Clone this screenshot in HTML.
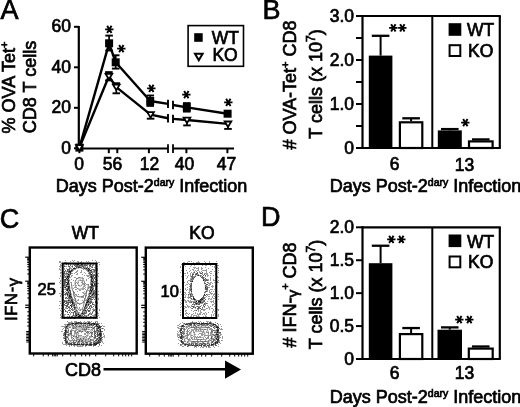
<!DOCTYPE html>
<html><head><meta charset="utf-8"><style>
html,body{margin:0;padding:0;background:#fff;}
svg{display:block;filter:blur(0.3px);}
text{font-family:"Liberation Sans", Arial, Helvetica, sans-serif;fill:#000;}
</style></head><body>
<svg width="520" height="407" viewBox="0 0 520 407" stroke="#000" stroke-linecap="butt">
<g stroke="none">
</g>
<text stroke="#000" stroke-width="0.7" x="0.4" y="19.2" font-size="27" text-anchor="start" >A</text>
<line x1="78.80" y1="26.00" x2="78.80" y2="149.50" stroke-width="2.2"/>
<line x1="74.00" y1="26.80" x2="79.00" y2="26.80" stroke-width="2"/>
<text stroke="#000" stroke-width="0.7" x="71" y="32.40000000000001" font-size="17.5" text-anchor="end" >60</text>
<line x1="74.00" y1="67.30" x2="79.00" y2="67.30" stroke-width="2"/>
<text stroke="#000" stroke-width="0.7" x="71" y="72.9" font-size="17.5" text-anchor="end" >40</text>
<line x1="74.00" y1="107.80" x2="79.00" y2="107.80" stroke-width="2"/>
<text stroke="#000" stroke-width="0.7" x="71" y="113.4" font-size="17.5" text-anchor="end" >20</text>
<line x1="74.00" y1="148.30" x2="79.00" y2="148.30" stroke-width="2"/>
<text stroke="#000" stroke-width="0.7" x="71" y="153.9" font-size="17.5" text-anchor="end" >0</text>
<line x1="77.80" y1="148.50" x2="168.00" y2="148.50" stroke-width="2"/>
<line x1="173.00" y1="148.50" x2="234.00" y2="148.50" stroke-width="2"/>
<line x1="79.40" y1="148.50" x2="79.40" y2="153.20" stroke-width="2"/>
<line x1="108.80" y1="148.50" x2="108.80" y2="153.20" stroke-width="2"/>
<line x1="117.30" y1="148.50" x2="117.30" y2="153.20" stroke-width="2"/>
<line x1="148.90" y1="148.50" x2="148.90" y2="153.20" stroke-width="2"/>
<line x1="186.40" y1="148.50" x2="186.40" y2="153.20" stroke-width="2"/>
<line x1="227.40" y1="148.50" x2="227.40" y2="153.20" stroke-width="2"/>
<line x1="168.00" y1="144.30" x2="168.00" y2="153.00" stroke-width="1.8"/>
<line x1="173.00" y1="144.30" x2="173.00" y2="153.00" stroke-width="1.8"/>
<text stroke="#000" stroke-width="0.7" x="79.2" y="169.8" font-size="17.5" text-anchor="middle" >0</text>
<text stroke="#000" stroke-width="0.7" x="112.4" y="169.8" font-size="17.5" text-anchor="middle" >56</text>
<text stroke="#000" stroke-width="0.7" x="149.4" y="169.8" font-size="17.5" text-anchor="middle" >12</text>
<text stroke="#000" stroke-width="0.7" x="184.6" y="169.8" font-size="17.5" text-anchor="middle" >40</text>
<text stroke="#000" stroke-width="0.7" x="226.5" y="169.8" font-size="17.5" text-anchor="middle" >47</text>
<text stroke="#000" stroke-width="0.7" x="55.8" y="191.5" font-size="18" text-anchor="start" >Days Post-2<tspan font-size="10.5" dy="-6">dary</tspan><tspan dy="6"> Infection</tspan></text>
<text stroke="#000" stroke-width="0.7" transform="translate(14.6,87.5) rotate(-90)" font-size="18" text-anchor="middle">% OVA Tet<tspan font-size="11" dy="-7">+</tspan></text>
<text stroke="#000" stroke-width="0.7" transform="translate(36,87) rotate(-90)" font-size="18" text-anchor="middle">CD8 T cells</text>
<rect x="188.1" y="25.6" width="55.4" height="40.7" fill="none" stroke-width="1.6"/>
<rect x="194.2" y="33.2" width="8.5" height="8.6" fill="#000" stroke="none"/>
<text stroke="#000" stroke-width="0.7" x="211.8" y="43.8" font-size="17.5" text-anchor="start" >WT</text>
<path d="M195,53.8 L202.6,53.8 L198.8,60.2 Z" fill="#fff" stroke-width="2"/>
<text stroke="#000" stroke-width="0.7" x="212.4" y="61" font-size="17.5" text-anchor="start" >KO</text>
<polyline fill="none" stroke-width="2.4" stroke-linejoin="round" points="79.4,147.6 109.1,43.3 115.7,62.3 150.2,101.0 168.0,103.9"/>
<polyline fill="none" stroke-width="2.4" stroke-linejoin="round" points="173.0,105.0 186.8,107.4 227.6,113.7"/>
<polyline fill="none" stroke-width="2.4" stroke-linejoin="round" points="79.4,147.6 108.9,76.3 116.3,87.1 150.6,114.6 168.0,118.2"/>
<polyline fill="none" stroke-width="2.4" stroke-linejoin="round" points="173.0,118.9 187.0,120.0 228.0,123.9"/>
<line x1="168.00" y1="99.70" x2="168.00" y2="108.10" stroke-width="1.9"/>
<line x1="173.00" y1="100.80" x2="173.00" y2="109.20" stroke-width="1.9"/>
<line x1="168.00" y1="114.00" x2="168.00" y2="122.40" stroke-width="1.9"/>
<line x1="173.00" y1="114.70" x2="173.00" y2="123.10" stroke-width="1.9"/>
<line x1="109.10" y1="43.30" x2="109.10" y2="35.60" stroke-width="1.7"/>
<line x1="105.30" y1="35.60" x2="112.90" y2="35.60" stroke-width="1.9"/>
<line x1="109.10" y1="43.30" x2="109.10" y2="50.50" stroke-width="1.7"/>
<line x1="105.30" y1="50.50" x2="112.90" y2="50.50" stroke-width="1.9"/>
<line x1="115.70" y1="62.30" x2="115.70" y2="55.30" stroke-width="1.7"/>
<line x1="111.90" y1="55.30" x2="119.50" y2="55.30" stroke-width="1.9"/>
<line x1="115.70" y1="62.30" x2="115.70" y2="68.60" stroke-width="1.7"/>
<line x1="111.90" y1="68.60" x2="119.50" y2="68.60" stroke-width="1.9"/>
<line x1="150.20" y1="101.00" x2="150.20" y2="95.50" stroke-width="1.7"/>
<line x1="146.40" y1="95.50" x2="154.00" y2="95.50" stroke-width="1.9"/>
<line x1="150.20" y1="101.00" x2="150.20" y2="105.90" stroke-width="1.7"/>
<line x1="146.40" y1="105.90" x2="154.00" y2="105.90" stroke-width="1.9"/>
<line x1="186.80" y1="107.40" x2="186.80" y2="103.10" stroke-width="1.7"/>
<line x1="183.00" y1="103.10" x2="190.60" y2="103.10" stroke-width="1.9"/>
<line x1="186.80" y1="107.40" x2="186.80" y2="111.60" stroke-width="1.7"/>
<line x1="183.00" y1="111.60" x2="190.60" y2="111.60" stroke-width="1.9"/>
<line x1="108.90" y1="76.30" x2="108.90" y2="72.10" stroke-width="1.7"/>
<line x1="105.10" y1="72.10" x2="112.70" y2="72.10" stroke-width="1.9"/>
<line x1="108.90" y1="76.30" x2="108.90" y2="80.40" stroke-width="1.7"/>
<line x1="105.10" y1="80.40" x2="112.70" y2="80.40" stroke-width="1.9"/>
<line x1="116.30" y1="87.10" x2="116.30" y2="83.20" stroke-width="1.7"/>
<line x1="112.50" y1="83.20" x2="120.10" y2="83.20" stroke-width="1.9"/>
<line x1="116.30" y1="87.10" x2="116.30" y2="93.30" stroke-width="1.7"/>
<line x1="112.50" y1="93.30" x2="120.10" y2="93.30" stroke-width="1.9"/>
<line x1="150.60" y1="114.60" x2="150.60" y2="118.70" stroke-width="1.7"/>
<line x1="146.80" y1="118.70" x2="154.40" y2="118.70" stroke-width="1.9"/>
<line x1="187.00" y1="120.00" x2="187.00" y2="125.40" stroke-width="1.7"/>
<line x1="183.20" y1="125.40" x2="190.80" y2="125.40" stroke-width="1.9"/>
<line x1="228.00" y1="123.90" x2="228.00" y2="128.90" stroke-width="1.7"/>
<line x1="224.20" y1="128.90" x2="231.80" y2="128.90" stroke-width="1.9"/>
<rect x="75.4" y="143.6" width="8.0" height="8.0" fill="#000" stroke="none"/>
<rect x="105.1" y="39.3" width="8.0" height="8.0" fill="#000" stroke="none"/>
<rect x="111.7" y="58.3" width="8.0" height="8.0" fill="#000" stroke="none"/>
<rect x="146.2" y="97.0" width="8.0" height="8.0" fill="#000" stroke="none"/>
<rect x="182.8" y="103.4" width="8.0" height="8.0" fill="#000" stroke="none"/>
<rect x="223.6" y="109.7" width="8.0" height="8.0" fill="#000" stroke="none"/>
<path d="M76.1,145.2 L82.7,145.2 L79.4,150.6 Z" fill="#fff" stroke-width="1.8" stroke-linejoin="miter"/>
<path d="M105.6,73.9 L112.2,73.9 L108.9,79.3 Z" fill="#fff" stroke-width="1.8" stroke-linejoin="miter"/>
<path d="M113.0,84.7 L119.6,84.7 L116.3,90.1 Z" fill="#fff" stroke-width="1.8" stroke-linejoin="miter"/>
<path d="M147.3,112.2 L153.9,112.2 L150.6,117.6 Z" fill="#fff" stroke-width="1.8" stroke-linejoin="miter"/>
<path d="M183.7,117.6 L190.3,117.6 L187.0,123.0 Z" fill="#fff" stroke-width="1.8" stroke-linejoin="miter"/>
<path d="M224.7,121.5 L231.3,121.5 L228.0,126.9 Z" fill="#fff" stroke-width="1.8" stroke-linejoin="miter"/>
<text stroke="#000" stroke-width="0.7" x="101.29" y="25.39" font-size="15.6" font-family="DejaVu Sans" rotate="90" letter-spacing="1.7" style="font-family:'DejaVu Sans',sans-serif;stroke-width:1.05">*</text>
<text stroke="#000" stroke-width="0.7" x="112.59" y="44.69" font-size="15.6" font-family="DejaVu Sans" rotate="90" letter-spacing="1.7" style="font-family:'DejaVu Sans',sans-serif;stroke-width:1.05">*</text>
<text stroke="#000" stroke-width="0.7" x="142.64" y="84.59" font-size="15.6" font-family="DejaVu Sans" rotate="90" letter-spacing="1.7" style="font-family:'DejaVu Sans',sans-serif;stroke-width:1.05">*</text>
<text stroke="#000" stroke-width="0.7" x="177.99" y="90.69" font-size="15.6" font-family="DejaVu Sans" rotate="90" letter-spacing="1.7" style="font-family:'DejaVu Sans',sans-serif;stroke-width:1.05">*</text>
<text stroke="#000" stroke-width="0.7" x="219.59" y="98.39" font-size="15.6" font-family="DejaVu Sans" rotate="90" letter-spacing="1.7" style="font-family:'DejaVu Sans',sans-serif;stroke-width:1.05">*</text>
<line x1="362.50" y1="15.00" x2="362.50" y2="149.00" stroke-width="2.2"/>
<line x1="361.50" y1="16.00" x2="500.80" y2="16.00" stroke-width="2.2"/>
<line x1="499.80" y1="16.00" x2="499.80" y2="148.00" stroke-width="2.2"/>
<line x1="432.30" y1="16.00" x2="432.30" y2="148.00" stroke-width="2"/>
<line x1="361.50" y1="148.00" x2="500.80" y2="148.00" stroke-width="2.2"/>
<line x1="356.00" y1="148.00" x2="362.50" y2="148.00" stroke-width="2"/>
<line x1="356.00" y1="126.00" x2="362.50" y2="126.00" stroke-width="2"/>
<line x1="356.00" y1="104.00" x2="362.50" y2="104.00" stroke-width="2"/>
<line x1="356.00" y1="82.00" x2="362.50" y2="82.00" stroke-width="2"/>
<line x1="356.00" y1="60.00" x2="362.50" y2="60.00" stroke-width="2"/>
<line x1="356.00" y1="38.00" x2="362.50" y2="38.00" stroke-width="2"/>
<line x1="356.00" y1="16.00" x2="362.50" y2="16.00" stroke-width="2"/>
<text stroke="#000" stroke-width="0.7" x="354" y="21.8" font-size="17.5" text-anchor="end" >3.0</text>
<text stroke="#000" stroke-width="0.7" x="354" y="65.8" font-size="17.5" text-anchor="end" >2.0</text>
<text stroke="#000" stroke-width="0.7" x="354" y="109.8" font-size="17.5" text-anchor="end" >1.0</text>
<text stroke="#000" stroke-width="0.7" x="354" y="153.8" font-size="17.5" text-anchor="end" >0</text>
<line x1="380.60" y1="55.60" x2="380.60" y2="35.80" stroke-width="2"/>
<line x1="371.80" y1="35.80" x2="389.40" y2="35.80" stroke-width="2.3"/>
<rect x="368.8" y="55.6" width="23.6" height="92.4" fill="#000" stroke="none"/>
<line x1="411.10" y1="121.16" x2="411.10" y2="118.30" stroke-width="2"/>
<line x1="402.30" y1="118.30" x2="419.90" y2="118.30" stroke-width="2.3"/>
<rect x="399.9" y="122.3" width="22.4" height="25.7" fill="#fff" stroke-width="2.2"/>
<line x1="449.80" y1="130.40" x2="449.80" y2="129.08" stroke-width="2"/>
<line x1="441.00" y1="129.08" x2="458.60" y2="129.08" stroke-width="2.3"/>
<rect x="437.8" y="130.4" width="24.0" height="17.6" fill="#000" stroke="none"/>
<line x1="480.80" y1="140.30" x2="480.80" y2="139.42" stroke-width="2"/>
<line x1="472.00" y1="139.42" x2="489.60" y2="139.42" stroke-width="2.3"/>
<rect x="469.0" y="141.4" width="23.6" height="6.6" fill="#fff" stroke-width="2.2"/>
<text stroke="#000" stroke-width="0.7" x="384.79" y="23.99" font-size="15.6" font-family="DejaVu Sans" rotate="90" letter-spacing="1.7" style="font-family:'DejaVu Sans',sans-serif;stroke-width:1.05">**</text>
<text stroke="#000" stroke-width="0.7" x="456.89" y="118.79" font-size="15.6" font-family="DejaVu Sans" rotate="90" letter-spacing="1.7" style="font-family:'DejaVu Sans',sans-serif;stroke-width:1.05">*</text>
<rect x="448.6" y="23.2" width="12.7" height="12.6" fill="#000" stroke="none"/>
<text stroke="#000" stroke-width="0.7" x="467" y="36.3" font-size="17.5" text-anchor="start" >WT</text>
<rect x="449.6" y="45.2" width="10.7" height="10.8" fill="#fff" stroke-width="2"/>
<text stroke="#000" stroke-width="0.7" x="468" y="56.6" font-size="17.5" text-anchor="start" >KO</text>
<text stroke="#000" stroke-width="0.7" x="394.5" y="170.2" font-size="17.5" text-anchor="middle" >6</text>
<text stroke="#000" stroke-width="0.7" x="464.5" y="170.7" font-size="17.5" text-anchor="middle" >13</text>
<text stroke="#000" stroke-width="0.7" x="329.8" y="191.5" font-size="18" text-anchor="start" >Days Post-2<tspan font-size="10.5" dy="-6">dary</tspan><tspan dy="6"> Infection</tspan></text>
<text stroke="#000" stroke-width="0.7" x="262.6" y="18.8" font-size="27" text-anchor="start" >B</text>
<text stroke="#000" stroke-width="0.7" transform="translate(296.3,85) rotate(-90)" font-size="18" text-anchor="middle"># OVA-Tet<tspan font-size="11" dy="-7">+</tspan><tspan dy="7"> CD8</tspan></text>
<text stroke="#000" stroke-width="0.7" transform="translate(321.9,84.0) rotate(-90)" font-size="18" text-anchor="middle">T cells (x 10<tspan font-size="12" dy="-7">7</tspan><tspan dy="7">)</tspan></text>
<line x1="362.50" y1="226.30" x2="362.50" y2="360.00" stroke-width="2.2"/>
<line x1="361.50" y1="227.30" x2="500.80" y2="227.30" stroke-width="2.2"/>
<line x1="499.80" y1="227.30" x2="499.80" y2="359.00" stroke-width="2.2"/>
<line x1="432.30" y1="227.30" x2="432.30" y2="359.00" stroke-width="2"/>
<line x1="361.50" y1="359.00" x2="500.80" y2="359.00" stroke-width="2.2"/>
<line x1="356.00" y1="359.00" x2="362.50" y2="359.00" stroke-width="2"/>
<line x1="356.00" y1="326.07" x2="362.50" y2="326.07" stroke-width="2"/>
<line x1="356.00" y1="293.15" x2="362.50" y2="293.15" stroke-width="2"/>
<line x1="356.00" y1="260.23" x2="362.50" y2="260.23" stroke-width="2"/>
<line x1="356.00" y1="227.30" x2="362.50" y2="227.30" stroke-width="2"/>
<text stroke="#000" stroke-width="0.7" x="354" y="233.10000000000002" font-size="17.5" text-anchor="end" >2.0</text>
<text stroke="#000" stroke-width="0.7" x="354" y="266.02500000000003" font-size="17.5" text-anchor="end" >1.5</text>
<text stroke="#000" stroke-width="0.7" x="354" y="298.95" font-size="17.5" text-anchor="end" >1.0</text>
<text stroke="#000" stroke-width="0.7" x="354" y="331.875" font-size="17.5" text-anchor="end" >0.5</text>
<text stroke="#000" stroke-width="0.7" x="354" y="364.8" font-size="17.5" text-anchor="end" >0</text>
<line x1="380.60" y1="263.19" x2="380.60" y2="245.74" stroke-width="2"/>
<line x1="371.80" y1="245.74" x2="389.40" y2="245.74" stroke-width="2.3"/>
<rect x="368.8" y="263.2" width="23.6" height="95.8" fill="#000" stroke="none"/>
<line x1="411.10" y1="332.99" x2="411.10" y2="328.05" stroke-width="2"/>
<line x1="402.30" y1="328.05" x2="419.90" y2="328.05" stroke-width="2.3"/>
<rect x="399.9" y="334.1" width="22.4" height="24.9" fill="#fff" stroke-width="2.2"/>
<line x1="449.75" y1="329.70" x2="449.75" y2="327.39" stroke-width="2"/>
<line x1="440.95" y1="327.39" x2="458.55" y2="327.39" stroke-width="2.3"/>
<rect x="437.5" y="329.7" width="24.5" height="29.3" fill="#000" stroke="none"/>
<line x1="480.75" y1="347.48" x2="480.75" y2="346.49" stroke-width="2"/>
<line x1="471.95" y1="346.49" x2="489.55" y2="346.49" stroke-width="2.3"/>
<rect x="468.8" y="348.6" width="23.9" height="10.4" fill="#fff" stroke-width="2.2"/>
<text stroke="#000" stroke-width="0.7" x="383.29" y="235.49" font-size="15.6" font-family="DejaVu Sans" rotate="90" letter-spacing="1.7" style="font-family:'DejaVu Sans',sans-serif;stroke-width:1.05">**</text>
<text stroke="#000" stroke-width="0.7" x="451.49" y="315.69" font-size="15.6" font-family="DejaVu Sans" rotate="90" letter-spacing="1.7" style="font-family:'DejaVu Sans',sans-serif;stroke-width:1.05">**</text>
<rect x="448.6" y="234.5" width="12.7" height="12.6" fill="#000" stroke="none"/>
<text stroke="#000" stroke-width="0.7" x="467" y="247.60000000000002" font-size="17.5" text-anchor="start" >WT</text>
<rect x="449.6" y="256.5" width="10.7" height="10.8" fill="#fff" stroke-width="2"/>
<text stroke="#000" stroke-width="0.7" x="468" y="267.90000000000003" font-size="17.5" text-anchor="start" >KO</text>
<text stroke="#000" stroke-width="0.7" x="394.5" y="378.8" font-size="17.5" text-anchor="middle" >6</text>
<text stroke="#000" stroke-width="0.7" x="464.5" y="379.0" font-size="17.5" text-anchor="middle" >13</text>
<text stroke="#000" stroke-width="0.7" x="329.8" y="402.5" font-size="18" text-anchor="start" >Days Post-2<tspan font-size="10.5" dy="-6">dary</tspan><tspan dy="6"> Infection</tspan></text>
<text stroke="#000" stroke-width="0.7" x="261.0" y="226.4" font-size="27" text-anchor="start" >D</text>
<text stroke="#000" stroke-width="0.7" transform="translate(296.3,295) rotate(-90)" font-size="18" text-anchor="middle"># IFN-<tspan font-size="15.5" dy="1.5">γ</tspan><tspan font-size="11" dy="-8.5">+</tspan><tspan dy="7"> CD8</tspan></text>
<text stroke="#000" stroke-width="0.7" transform="translate(322.3,294.5) rotate(-90)" font-size="18" text-anchor="middle">T cells (x 10<tspan font-size="12" dy="-7">7</tspan><tspan dy="7">)</tspan></text>
<filter id="bl" x="-5%" y="-5%" width="110%" height="110%"><feGaussianBlur stdDeviation="0.4"/></filter>
<g stroke="none" filter="url(#bl)"><path fill="#9a9a9a" d="M65 260h1v1h-1zM72 260h1v1h-1zM74 260h1v1h-1zM92 260h1v1h-1zM95 260h1v1h-1zM59 261h1v1h-1zM60 261h1v1h-1zM70 261h1v1h-1zM73 261h1v1h-1zM77 261h1v1h-1zM78 261h1v1h-1zM81 261h1v1h-1zM86 261h1v1h-1zM88 261h1v1h-1zM96 261h1v1h-1zM188 261h1v1h-1zM189 261h1v1h-1zM191 261h1v1h-1zM198 261h1v1h-1zM204 261h1v1h-1zM209 261h1v1h-1zM216 261h1v1h-1zM59 262h1v1h-1zM60 262h1v1h-1zM64 262h1v1h-1zM65 262h1v1h-1zM66 262h1v1h-1zM78 262h1v1h-1zM80 262h1v1h-1zM81 262h1v1h-1zM83 262h1v1h-1zM87 262h1v1h-1zM89 262h1v1h-1zM96 262h1v1h-1zM98 262h1v1h-1zM99 262h1v1h-1zM183 262h1v1h-1zM184 262h1v1h-1zM187 262h1v1h-1zM193 262h1v1h-1zM196 262h1v1h-1zM197 262h1v1h-1zM198 262h1v1h-1zM199 262h1v1h-1zM205 262h1v1h-1zM209 262h1v1h-1zM61 263h1v1h-1zM79 263h1v1h-1zM84 263h1v1h-1zM86 263h1v1h-1zM90 263h1v1h-1zM91 263h1v1h-1zM96 263h1v1h-1zM97 263h1v1h-1zM185 263h1v1h-1zM191 263h1v1h-1zM193 263h1v1h-1zM203 263h1v1h-1zM207 263h1v1h-1zM210 263h1v1h-1zM215 263h1v1h-1zM217 263h1v1h-1zM60 264h1v1h-1zM70 264h1v1h-1zM73 264h1v1h-1zM74 264h1v1h-1zM76 264h1v1h-1zM84 264h1v1h-1zM85 264h1v1h-1zM87 264h1v1h-1zM93 264h1v1h-1zM96 264h1v1h-1zM99 264h1v1h-1zM181 264h1v1h-1zM185 264h1v1h-1zM186 264h1v1h-1zM189 264h1v1h-1zM195 264h1v1h-1zM196 264h1v1h-1zM200 264h1v1h-1zM204 264h1v1h-1zM209 264h1v1h-1zM212 264h1v1h-1zM214 264h1v1h-1zM215 264h1v1h-1zM60 265h1v1h-1zM61 265h1v1h-1zM62 265h1v1h-1zM64 265h1v1h-1zM68 265h1v1h-1zM72 265h1v1h-1zM75 265h1v1h-1zM78 265h1v1h-1zM83 265h1v1h-1zM87 265h1v1h-1zM93 265h1v1h-1zM95 265h1v1h-1zM184 265h1v1h-1zM191 265h1v1h-1zM194 265h1v1h-1zM202 265h1v1h-1zM205 265h1v1h-1zM206 265h1v1h-1zM210 265h1v1h-1zM215 265h1v1h-1zM217 265h1v1h-1zM218 265h1v1h-1zM59 266h1v1h-1zM60 266h1v1h-1zM62 266h1v1h-1zM65 266h1v1h-1zM66 266h1v1h-1zM71 266h1v1h-1zM80 266h1v1h-1zM81 266h1v1h-1zM84 266h1v1h-1zM85 266h1v1h-1zM87 266h1v1h-1zM89 266h1v1h-1zM91 266h1v1h-1zM92 266h1v1h-1zM95 266h1v1h-1zM97 266h1v1h-1zM180 266h1v1h-1zM183 266h1v1h-1zM185 266h1v1h-1zM190 266h1v1h-1zM212 266h1v1h-1zM214 266h1v1h-1zM60 267h1v1h-1zM63 267h1v1h-1zM69 267h1v1h-1zM70 267h1v1h-1zM72 267h1v1h-1zM74 267h1v1h-1zM77 267h1v1h-1zM81 267h1v1h-1zM84 267h1v1h-1zM85 267h1v1h-1zM86 267h1v1h-1zM89 267h1v1h-1zM91 267h1v1h-1zM94 267h1v1h-1zM95 267h1v1h-1zM180 267h1v1h-1zM193 267h1v1h-1zM194 267h1v1h-1zM195 267h1v1h-1zM198 267h1v1h-1zM201 267h1v1h-1zM205 267h1v1h-1zM214 267h1v1h-1zM217 267h1v1h-1zM59 268h1v1h-1zM64 268h1v1h-1zM66 268h1v1h-1zM70 268h1v1h-1zM71 268h1v1h-1zM82 268h1v1h-1zM87 268h1v1h-1zM89 268h1v1h-1zM90 268h1v1h-1zM95 268h1v1h-1zM96 268h1v1h-1zM97 268h1v1h-1zM189 268h1v1h-1zM194 268h1v1h-1zM196 268h1v1h-1zM197 268h1v1h-1zM198 268h1v1h-1zM201 268h1v1h-1zM202 268h1v1h-1zM208 268h1v1h-1zM215 268h1v1h-1zM218 268h1v1h-1zM59 269h1v1h-1zM60 269h1v1h-1zM62 269h1v1h-1zM64 269h1v1h-1zM71 269h1v1h-1zM73 269h1v1h-1zM75 269h1v1h-1zM83 269h1v1h-1zM86 269h1v1h-1zM91 269h1v1h-1zM94 269h1v1h-1zM95 269h1v1h-1zM96 269h1v1h-1zM97 269h1v1h-1zM182 269h1v1h-1zM192 269h1v1h-1zM193 269h1v1h-1zM198 269h1v1h-1zM201 269h1v1h-1zM206 269h1v1h-1zM212 269h1v1h-1zM216 269h1v1h-1zM60 270h1v1h-1zM68 270h1v1h-1zM70 270h1v1h-1zM77 270h1v1h-1zM81 270h1v1h-1zM87 270h1v1h-1zM93 270h1v1h-1zM95 270h1v1h-1zM97 270h1v1h-1zM181 270h1v1h-1zM186 270h1v1h-1zM190 270h1v1h-1zM193 270h1v1h-1zM195 270h1v1h-1zM197 270h1v1h-1zM198 270h1v1h-1zM202 270h1v1h-1zM203 270h1v1h-1zM204 270h1v1h-1zM205 270h1v1h-1zM206 270h1v1h-1zM218 270h1v1h-1zM65 271h1v1h-1zM66 271h1v1h-1zM76 271h1v1h-1zM77 271h1v1h-1zM81 271h1v1h-1zM89 271h1v1h-1zM90 271h1v1h-1zM92 271h1v1h-1zM93 271h1v1h-1zM182 271h1v1h-1zM183 271h1v1h-1zM189 271h1v1h-1zM194 271h1v1h-1zM196 271h1v1h-1zM199 271h1v1h-1zM201 271h1v1h-1zM206 271h1v1h-1zM210 271h1v1h-1zM211 271h1v1h-1zM214 271h1v1h-1zM60 272h1v1h-1zM61 272h1v1h-1zM62 272h1v1h-1zM66 272h1v1h-1zM75 272h1v1h-1zM76 272h1v1h-1zM80 272h1v1h-1zM81 272h1v1h-1zM84 272h1v1h-1zM92 272h1v1h-1zM93 272h1v1h-1zM94 272h1v1h-1zM180 272h1v1h-1zM183 272h1v1h-1zM187 272h1v1h-1zM191 272h1v1h-1zM193 272h1v1h-1zM199 272h1v1h-1zM200 272h1v1h-1zM206 272h1v1h-1zM209 272h1v1h-1zM218 272h1v1h-1zM60 273h1v1h-1zM62 273h1v1h-1zM63 273h1v1h-1zM65 273h1v1h-1zM68 273h1v1h-1zM69 273h1v1h-1zM71 273h1v1h-1zM72 273h1v1h-1zM74 273h1v1h-1zM77 273h1v1h-1zM85 273h1v1h-1zM88 273h1v1h-1zM89 273h1v1h-1zM98 273h1v1h-1zM184 273h1v1h-1zM185 273h1v1h-1zM187 273h1v1h-1zM190 273h1v1h-1zM192 273h1v1h-1zM193 273h1v1h-1zM195 273h1v1h-1zM202 273h1v1h-1zM204 273h1v1h-1zM205 273h1v1h-1zM206 273h1v1h-1zM207 273h1v1h-1zM210 273h1v1h-1zM211 273h1v1h-1zM215 273h1v1h-1zM63 274h1v1h-1zM64 274h1v1h-1zM65 274h1v1h-1zM66 274h1v1h-1zM67 274h1v1h-1zM70 274h1v1h-1zM76 274h1v1h-1zM77 274h1v1h-1zM82 274h1v1h-1zM92 274h1v1h-1zM93 274h1v1h-1zM97 274h1v1h-1zM182 274h1v1h-1zM183 274h1v1h-1zM190 274h1v1h-1zM197 274h1v1h-1zM198 274h1v1h-1zM202 274h1v1h-1zM206 274h1v1h-1zM207 274h1v1h-1zM215 274h1v1h-1zM60 275h1v1h-1zM66 275h1v1h-1zM67 275h1v1h-1zM71 275h1v1h-1zM72 275h1v1h-1zM84 275h1v1h-1zM86 275h1v1h-1zM87 275h1v1h-1zM88 275h1v1h-1zM89 275h1v1h-1zM90 275h1v1h-1zM95 275h1v1h-1zM97 275h1v1h-1zM182 275h1v1h-1zM185 275h1v1h-1zM188 275h1v1h-1zM190 275h1v1h-1zM195 275h1v1h-1zM199 275h1v1h-1zM201 275h1v1h-1zM207 275h1v1h-1zM208 275h1v1h-1zM210 275h1v1h-1zM213 275h1v1h-1zM216 275h1v1h-1zM60 276h1v1h-1zM62 276h1v1h-1zM63 276h1v1h-1zM64 276h1v1h-1zM66 276h1v1h-1zM71 276h1v1h-1zM87 276h1v1h-1zM88 276h1v1h-1zM90 276h1v1h-1zM98 276h1v1h-1zM181 276h1v1h-1zM187 276h1v1h-1zM190 276h1v1h-1zM193 276h1v1h-1zM194 276h1v1h-1zM205 276h1v1h-1zM207 276h1v1h-1zM217 276h1v1h-1zM63 277h1v1h-1zM64 277h1v1h-1zM66 277h1v1h-1zM70 277h1v1h-1zM74 277h1v1h-1zM75 277h1v1h-1zM78 277h1v1h-1zM79 277h1v1h-1zM82 277h1v1h-1zM89 277h1v1h-1zM93 277h1v1h-1zM95 277h1v1h-1zM187 277h1v1h-1zM191 277h1v1h-1zM193 277h1v1h-1zM204 277h1v1h-1zM210 277h1v1h-1zM217 277h1v1h-1zM218 277h1v1h-1zM59 278h1v1h-1zM63 278h1v1h-1zM67 278h1v1h-1zM76 278h1v1h-1zM77 278h1v1h-1zM83 278h1v1h-1zM88 278h1v1h-1zM93 278h1v1h-1zM96 278h1v1h-1zM183 278h1v1h-1zM186 278h1v1h-1zM190 278h1v1h-1zM191 278h1v1h-1zM202 278h1v1h-1zM210 278h1v1h-1zM215 278h1v1h-1zM216 278h1v1h-1zM62 279h1v1h-1zM66 279h1v1h-1zM68 279h1v1h-1zM71 279h1v1h-1zM86 279h1v1h-1zM92 279h1v1h-1zM190 279h1v1h-1zM192 279h1v1h-1zM193 279h1v1h-1zM205 279h1v1h-1zM207 279h1v1h-1zM208 279h1v1h-1zM210 279h1v1h-1zM213 279h1v1h-1zM216 279h1v1h-1zM60 280h1v1h-1zM66 280h1v1h-1zM69 280h1v1h-1zM73 280h1v1h-1zM75 280h1v1h-1zM80 280h1v1h-1zM82 280h1v1h-1zM86 280h1v1h-1zM92 280h1v1h-1zM97 280h1v1h-1zM188 280h1v1h-1zM189 280h1v1h-1zM190 280h1v1h-1zM191 280h1v1h-1zM192 280h1v1h-1zM204 280h1v1h-1zM208 280h1v1h-1zM210 280h1v1h-1zM213 280h1v1h-1zM214 280h1v1h-1zM215 280h1v1h-1zM216 280h1v1h-1zM218 280h1v1h-1zM60 281h1v1h-1zM62 281h1v1h-1zM67 281h1v1h-1zM82 281h1v1h-1zM93 281h1v1h-1zM95 281h1v1h-1zM187 281h1v1h-1zM205 281h1v1h-1zM217 281h1v1h-1zM59 282h1v1h-1zM70 282h1v1h-1zM71 282h1v1h-1zM76 282h1v1h-1zM78 282h1v1h-1zM81 282h1v1h-1zM90 282h1v1h-1zM91 282h1v1h-1zM94 282h1v1h-1zM96 282h1v1h-1zM183 282h1v1h-1zM184 282h1v1h-1zM187 282h1v1h-1zM204 282h1v1h-1zM208 282h1v1h-1zM210 282h1v1h-1zM211 282h1v1h-1zM214 282h1v1h-1zM217 282h1v1h-1zM218 282h1v1h-1zM60 283h1v1h-1zM65 283h1v1h-1zM71 283h1v1h-1zM75 283h1v1h-1zM77 283h1v1h-1zM83 283h1v1h-1zM85 283h1v1h-1zM93 283h1v1h-1zM95 283h1v1h-1zM96 283h1v1h-1zM97 283h1v1h-1zM98 283h1v1h-1zM188 283h1v1h-1zM190 283h1v1h-1zM208 283h1v1h-1zM209 283h1v1h-1zM210 283h1v1h-1zM212 283h1v1h-1zM65 284h1v1h-1zM83 284h1v1h-1zM86 284h1v1h-1zM87 284h1v1h-1zM95 284h1v1h-1zM186 284h1v1h-1zM187 284h1v1h-1zM189 284h1v1h-1zM190 284h1v1h-1zM209 284h1v1h-1zM210 284h1v1h-1zM65 285h1v1h-1zM67 285h1v1h-1zM68 285h1v1h-1zM69 285h1v1h-1zM73 285h1v1h-1zM76 285h1v1h-1zM78 285h1v1h-1zM79 285h1v1h-1zM85 285h1v1h-1zM96 285h1v1h-1zM182 285h1v1h-1zM183 285h1v1h-1zM185 285h1v1h-1zM206 285h1v1h-1zM208 285h1v1h-1zM209 285h1v1h-1zM212 285h1v1h-1zM215 285h1v1h-1zM64 286h1v1h-1zM65 286h1v1h-1zM84 286h1v1h-1zM89 286h1v1h-1zM94 286h1v1h-1zM95 286h1v1h-1zM97 286h1v1h-1zM189 286h1v1h-1zM205 286h1v1h-1zM207 286h1v1h-1zM211 286h1v1h-1zM212 286h1v1h-1zM213 286h1v1h-1zM215 286h1v1h-1zM60 287h1v1h-1zM62 287h1v1h-1zM67 287h1v1h-1zM74 287h1v1h-1zM75 287h1v1h-1zM85 287h1v1h-1zM88 287h1v1h-1zM89 287h1v1h-1zM93 287h1v1h-1zM95 287h1v1h-1zM187 287h1v1h-1zM191 287h1v1h-1zM206 287h1v1h-1zM208 287h1v1h-1zM209 287h1v1h-1zM212 287h1v1h-1zM215 287h1v1h-1zM216 287h1v1h-1zM65 288h1v1h-1zM66 288h1v1h-1zM73 288h1v1h-1zM83 288h1v1h-1zM84 288h1v1h-1zM88 288h1v1h-1zM95 288h1v1h-1zM96 288h1v1h-1zM185 288h1v1h-1zM189 288h1v1h-1zM190 288h1v1h-1zM215 288h1v1h-1zM63 289h1v1h-1zM64 289h1v1h-1zM65 289h1v1h-1zM75 289h1v1h-1zM76 289h1v1h-1zM82 289h1v1h-1zM83 289h1v1h-1zM85 289h1v1h-1zM91 289h1v1h-1zM93 289h1v1h-1zM180 289h1v1h-1zM182 289h1v1h-1zM185 289h1v1h-1zM187 289h1v1h-1zM189 289h1v1h-1zM210 289h1v1h-1zM211 289h1v1h-1zM212 289h1v1h-1zM214 289h1v1h-1zM68 290h1v1h-1zM70 290h1v1h-1zM79 290h1v1h-1zM80 290h1v1h-1zM86 290h1v1h-1zM88 290h1v1h-1zM93 290h1v1h-1zM186 290h1v1h-1zM189 290h1v1h-1zM191 290h1v1h-1zM206 290h1v1h-1zM207 290h1v1h-1zM209 290h1v1h-1zM215 290h1v1h-1zM216 290h1v1h-1zM61 291h1v1h-1zM62 291h1v1h-1zM63 291h1v1h-1zM65 291h1v1h-1zM67 291h1v1h-1zM69 291h1v1h-1zM77 291h1v1h-1zM84 291h1v1h-1zM90 291h1v1h-1zM92 291h1v1h-1zM94 291h1v1h-1zM98 291h1v1h-1zM180 291h1v1h-1zM189 291h1v1h-1zM207 291h1v1h-1zM209 291h1v1h-1zM211 291h1v1h-1zM213 291h1v1h-1zM215 291h1v1h-1zM216 291h1v1h-1zM63 292h1v1h-1zM64 292h1v1h-1zM67 292h1v1h-1zM69 292h1v1h-1zM73 292h1v1h-1zM74 292h1v1h-1zM82 292h1v1h-1zM83 292h1v1h-1zM89 292h1v1h-1zM92 292h1v1h-1zM95 292h1v1h-1zM180 292h1v1h-1zM182 292h1v1h-1zM184 292h1v1h-1zM185 292h1v1h-1zM188 292h1v1h-1zM189 292h1v1h-1zM191 292h1v1h-1zM204 292h1v1h-1zM205 292h1v1h-1zM209 292h1v1h-1zM210 292h1v1h-1zM59 293h1v1h-1zM60 293h1v1h-1zM62 293h1v1h-1zM68 293h1v1h-1zM83 293h1v1h-1zM84 293h1v1h-1zM91 293h1v1h-1zM92 293h1v1h-1zM95 293h1v1h-1zM185 293h1v1h-1zM189 293h1v1h-1zM190 293h1v1h-1zM210 293h1v1h-1zM211 293h1v1h-1zM212 293h1v1h-1zM214 293h1v1h-1zM216 293h1v1h-1zM61 294h1v1h-1zM62 294h1v1h-1zM66 294h1v1h-1zM68 294h1v1h-1zM73 294h1v1h-1zM76 294h1v1h-1zM78 294h1v1h-1zM89 294h1v1h-1zM90 294h1v1h-1zM91 294h1v1h-1zM94 294h1v1h-1zM96 294h1v1h-1zM97 294h1v1h-1zM98 294h1v1h-1zM181 294h1v1h-1zM183 294h1v1h-1zM184 294h1v1h-1zM186 294h1v1h-1zM189 294h1v1h-1zM191 294h1v1h-1zM207 294h1v1h-1zM208 294h1v1h-1zM209 294h1v1h-1zM211 294h1v1h-1zM213 294h1v1h-1zM214 294h1v1h-1zM218 294h1v1h-1zM60 295h1v1h-1zM62 295h1v1h-1zM63 295h1v1h-1zM65 295h1v1h-1zM68 295h1v1h-1zM74 295h1v1h-1zM85 295h1v1h-1zM86 295h1v1h-1zM93 295h1v1h-1zM185 295h1v1h-1zM188 295h1v1h-1zM191 295h1v1h-1zM192 295h1v1h-1zM203 295h1v1h-1zM207 295h1v1h-1zM213 295h1v1h-1zM60 296h1v1h-1zM67 296h1v1h-1zM68 296h1v1h-1zM75 296h1v1h-1zM82 296h1v1h-1zM83 296h1v1h-1zM85 296h1v1h-1zM91 296h1v1h-1zM92 296h1v1h-1zM93 296h1v1h-1zM94 296h1v1h-1zM95 296h1v1h-1zM185 296h1v1h-1zM188 296h1v1h-1zM192 296h1v1h-1zM206 296h1v1h-1zM208 296h1v1h-1zM209 296h1v1h-1zM212 296h1v1h-1zM214 296h1v1h-1zM216 296h1v1h-1zM218 296h1v1h-1zM63 297h1v1h-1zM65 297h1v1h-1zM81 297h1v1h-1zM82 297h1v1h-1zM83 297h1v1h-1zM88 297h1v1h-1zM89 297h1v1h-1zM90 297h1v1h-1zM94 297h1v1h-1zM95 297h1v1h-1zM183 297h1v1h-1zM184 297h1v1h-1zM185 297h1v1h-1zM187 297h1v1h-1zM188 297h1v1h-1zM190 297h1v1h-1zM204 297h1v1h-1zM205 297h1v1h-1zM212 297h1v1h-1zM215 297h1v1h-1zM216 297h1v1h-1zM66 298h1v1h-1zM68 298h1v1h-1zM71 298h1v1h-1zM75 298h1v1h-1zM87 298h1v1h-1zM91 298h1v1h-1zM93 298h1v1h-1zM95 298h1v1h-1zM98 298h1v1h-1zM180 298h1v1h-1zM188 298h1v1h-1zM190 298h1v1h-1zM208 298h1v1h-1zM209 298h1v1h-1zM211 298h1v1h-1zM213 298h1v1h-1zM214 298h1v1h-1zM62 299h1v1h-1zM63 299h1v1h-1zM68 299h1v1h-1zM69 299h1v1h-1zM70 299h1v1h-1zM73 299h1v1h-1zM78 299h1v1h-1zM84 299h1v1h-1zM86 299h1v1h-1zM87 299h1v1h-1zM89 299h1v1h-1zM98 299h1v1h-1zM184 299h1v1h-1zM191 299h1v1h-1zM192 299h1v1h-1zM203 299h1v1h-1zM208 299h1v1h-1zM210 299h1v1h-1zM211 299h1v1h-1zM218 299h1v1h-1zM62 300h1v1h-1zM63 300h1v1h-1zM65 300h1v1h-1zM66 300h1v1h-1zM67 300h1v1h-1zM70 300h1v1h-1zM74 300h1v1h-1zM77 300h1v1h-1zM78 300h1v1h-1zM82 300h1v1h-1zM85 300h1v1h-1zM86 300h1v1h-1zM89 300h1v1h-1zM90 300h1v1h-1zM91 300h1v1h-1zM181 300h1v1h-1zM184 300h1v1h-1zM185 300h1v1h-1zM187 300h1v1h-1zM188 300h1v1h-1zM190 300h1v1h-1zM194 300h1v1h-1zM195 300h1v1h-1zM196 300h1v1h-1zM197 300h1v1h-1zM202 300h1v1h-1zM203 300h1v1h-1zM213 300h1v1h-1zM59 301h1v1h-1zM60 301h1v1h-1zM62 301h1v1h-1zM67 301h1v1h-1zM68 301h1v1h-1zM69 301h1v1h-1zM75 301h1v1h-1zM89 301h1v1h-1zM96 301h1v1h-1zM185 301h1v1h-1zM186 301h1v1h-1zM188 301h1v1h-1zM189 301h1v1h-1zM190 301h1v1h-1zM191 301h1v1h-1zM192 301h1v1h-1zM193 301h1v1h-1zM194 301h1v1h-1zM195 301h1v1h-1zM201 301h1v1h-1zM202 301h1v1h-1zM207 301h1v1h-1zM210 301h1v1h-1zM211 301h1v1h-1zM212 301h1v1h-1zM213 301h1v1h-1zM215 301h1v1h-1zM216 301h1v1h-1zM63 302h1v1h-1zM74 302h1v1h-1zM83 302h1v1h-1zM84 302h1v1h-1zM92 302h1v1h-1zM93 302h1v1h-1zM97 302h1v1h-1zM180 302h1v1h-1zM183 302h1v1h-1zM185 302h1v1h-1zM186 302h1v1h-1zM189 302h1v1h-1zM190 302h1v1h-1zM196 302h1v1h-1zM197 302h1v1h-1zM203 302h1v1h-1zM205 302h1v1h-1zM211 302h1v1h-1zM213 302h1v1h-1zM60 303h1v1h-1zM63 303h1v1h-1zM67 303h1v1h-1zM70 303h1v1h-1zM74 303h1v1h-1zM77 303h1v1h-1zM78 303h1v1h-1zM87 303h1v1h-1zM88 303h1v1h-1zM89 303h1v1h-1zM96 303h1v1h-1zM97 303h1v1h-1zM181 303h1v1h-1zM193 303h1v1h-1zM198 303h1v1h-1zM200 303h1v1h-1zM201 303h1v1h-1zM202 303h1v1h-1zM205 303h1v1h-1zM207 303h1v1h-1zM214 303h1v1h-1zM216 303h1v1h-1zM63 304h1v1h-1zM73 304h1v1h-1zM74 304h1v1h-1zM75 304h1v1h-1zM79 304h1v1h-1zM87 304h1v1h-1zM89 304h1v1h-1zM94 304h1v1h-1zM180 304h1v1h-1zM186 304h1v1h-1zM193 304h1v1h-1zM195 304h1v1h-1zM197 304h1v1h-1zM203 304h1v1h-1zM205 304h1v1h-1zM212 304h1v1h-1zM213 304h1v1h-1zM59 305h1v1h-1zM61 305h1v1h-1zM64 305h1v1h-1zM72 305h1v1h-1zM87 305h1v1h-1zM91 305h1v1h-1zM94 305h1v1h-1zM95 305h1v1h-1zM187 305h1v1h-1zM191 305h1v1h-1zM194 305h1v1h-1zM201 305h1v1h-1zM205 305h1v1h-1zM207 305h1v1h-1zM212 305h1v1h-1zM63 306h1v1h-1zM68 306h1v1h-1zM69 306h1v1h-1zM72 306h1v1h-1zM73 306h1v1h-1zM74 306h1v1h-1zM86 306h1v1h-1zM87 306h1v1h-1zM90 306h1v1h-1zM181 306h1v1h-1zM182 306h1v1h-1zM183 306h1v1h-1zM184 306h1v1h-1zM185 306h1v1h-1zM187 306h1v1h-1zM188 306h1v1h-1zM189 306h1v1h-1zM191 306h1v1h-1zM194 306h1v1h-1zM196 306h1v1h-1zM198 306h1v1h-1zM199 306h1v1h-1zM203 306h1v1h-1zM208 306h1v1h-1zM210 306h1v1h-1zM214 306h1v1h-1zM216 306h1v1h-1zM62 307h1v1h-1zM63 307h1v1h-1zM65 307h1v1h-1zM66 307h1v1h-1zM73 307h1v1h-1zM75 307h1v1h-1zM76 307h1v1h-1zM79 307h1v1h-1zM85 307h1v1h-1zM87 307h1v1h-1zM92 307h1v1h-1zM96 307h1v1h-1zM180 307h1v1h-1zM182 307h1v1h-1zM185 307h1v1h-1zM186 307h1v1h-1zM188 307h1v1h-1zM190 307h1v1h-1zM194 307h1v1h-1zM204 307h1v1h-1zM208 307h1v1h-1zM209 307h1v1h-1zM216 307h1v1h-1zM59 308h1v1h-1zM61 308h1v1h-1zM62 308h1v1h-1zM65 308h1v1h-1zM66 308h1v1h-1zM69 308h1v1h-1zM75 308h1v1h-1zM79 308h1v1h-1zM89 308h1v1h-1zM93 308h1v1h-1zM96 308h1v1h-1zM97 308h1v1h-1zM182 308h1v1h-1zM183 308h1v1h-1zM184 308h1v1h-1zM191 308h1v1h-1zM195 308h1v1h-1zM199 308h1v1h-1zM202 308h1v1h-1zM206 308h1v1h-1zM207 308h1v1h-1zM209 308h1v1h-1zM211 308h1v1h-1zM212 308h1v1h-1zM215 308h1v1h-1zM69 309h1v1h-1zM72 309h1v1h-1zM73 309h1v1h-1zM75 309h1v1h-1zM80 309h1v1h-1zM82 309h1v1h-1zM85 309h1v1h-1zM90 309h1v1h-1zM92 309h1v1h-1zM93 309h1v1h-1zM94 309h1v1h-1zM95 309h1v1h-1zM96 309h1v1h-1zM99 309h1v1h-1zM197 309h1v1h-1zM198 309h1v1h-1zM202 309h1v1h-1zM203 309h1v1h-1zM204 309h1v1h-1zM205 309h1v1h-1zM209 309h1v1h-1zM213 309h1v1h-1zM217 309h1v1h-1zM218 309h1v1h-1zM60 310h1v1h-1zM63 310h1v1h-1zM70 310h1v1h-1zM73 310h1v1h-1zM75 310h1v1h-1zM80 310h1v1h-1zM86 310h1v1h-1zM87 310h1v1h-1zM90 310h1v1h-1zM96 310h1v1h-1zM99 310h1v1h-1zM180 310h1v1h-1zM183 310h1v1h-1zM185 310h1v1h-1zM186 310h1v1h-1zM191 310h1v1h-1zM194 310h1v1h-1zM195 310h1v1h-1zM198 310h1v1h-1zM200 310h1v1h-1zM203 310h1v1h-1zM204 310h1v1h-1zM213 310h1v1h-1zM215 310h1v1h-1zM218 310h1v1h-1zM61 311h1v1h-1zM63 311h1v1h-1zM66 311h1v1h-1zM67 311h1v1h-1zM70 311h1v1h-1zM76 311h1v1h-1zM82 311h1v1h-1zM83 311h1v1h-1zM84 311h1v1h-1zM85 311h1v1h-1zM92 311h1v1h-1zM93 311h1v1h-1zM95 311h1v1h-1zM185 311h1v1h-1zM193 311h1v1h-1zM198 311h1v1h-1zM200 311h1v1h-1zM212 311h1v1h-1zM214 311h1v1h-1zM72 312h1v1h-1zM74 312h1v1h-1zM76 312h1v1h-1zM77 312h1v1h-1zM78 312h1v1h-1zM79 312h1v1h-1zM83 312h1v1h-1zM85 312h1v1h-1zM90 312h1v1h-1zM97 312h1v1h-1zM180 312h1v1h-1zM182 312h1v1h-1zM186 312h1v1h-1zM195 312h1v1h-1zM200 312h1v1h-1zM201 312h1v1h-1zM205 312h1v1h-1zM208 312h1v1h-1zM212 312h1v1h-1zM61 313h1v1h-1zM70 313h1v1h-1zM77 313h1v1h-1zM78 313h1v1h-1zM86 313h1v1h-1zM90 313h1v1h-1zM91 313h1v1h-1zM92 313h1v1h-1zM97 313h1v1h-1zM98 313h1v1h-1zM183 313h1v1h-1zM185 313h1v1h-1zM186 313h1v1h-1zM187 313h1v1h-1zM189 313h1v1h-1zM193 313h1v1h-1zM195 313h1v1h-1zM197 313h1v1h-1zM199 313h1v1h-1zM200 313h1v1h-1zM203 313h1v1h-1zM204 313h1v1h-1zM206 313h1v1h-1zM214 313h1v1h-1zM60 314h1v1h-1zM62 314h1v1h-1zM64 314h1v1h-1zM65 314h1v1h-1zM67 314h1v1h-1zM70 314h1v1h-1zM81 314h1v1h-1zM82 314h1v1h-1zM84 314h1v1h-1zM89 314h1v1h-1zM90 314h1v1h-1zM94 314h1v1h-1zM95 314h1v1h-1zM180 314h1v1h-1zM183 314h1v1h-1zM185 314h1v1h-1zM188 314h1v1h-1zM191 314h1v1h-1zM192 314h1v1h-1zM197 314h1v1h-1zM198 314h1v1h-1zM199 314h1v1h-1zM200 314h1v1h-1zM202 314h1v1h-1zM204 314h1v1h-1zM206 314h1v1h-1zM211 314h1v1h-1zM213 314h1v1h-1zM218 314h1v1h-1zM60 315h1v1h-1zM64 315h1v1h-1zM69 315h1v1h-1zM72 315h1v1h-1zM74 315h1v1h-1zM77 315h1v1h-1zM78 315h1v1h-1zM81 315h1v1h-1zM85 315h1v1h-1zM86 315h1v1h-1zM87 315h1v1h-1zM92 315h1v1h-1zM93 315h1v1h-1zM94 315h1v1h-1zM95 315h1v1h-1zM98 315h1v1h-1zM180 315h1v1h-1zM182 315h1v1h-1zM183 315h1v1h-1zM186 315h1v1h-1zM191 315h1v1h-1zM193 315h1v1h-1zM194 315h1v1h-1zM195 315h1v1h-1zM196 315h1v1h-1zM198 315h1v1h-1zM205 315h1v1h-1zM211 315h1v1h-1zM213 315h1v1h-1zM215 315h1v1h-1zM218 315h1v1h-1zM61 316h1v1h-1zM62 316h1v1h-1zM64 316h1v1h-1zM67 316h1v1h-1zM74 316h1v1h-1zM76 316h1v1h-1zM77 316h1v1h-1zM82 316h1v1h-1zM84 316h1v1h-1zM85 316h1v1h-1zM91 316h1v1h-1zM93 316h1v1h-1zM94 316h1v1h-1zM97 316h1v1h-1zM182 316h1v1h-1zM183 316h1v1h-1zM187 316h1v1h-1zM188 316h1v1h-1zM190 316h1v1h-1zM191 316h1v1h-1zM193 316h1v1h-1zM196 316h1v1h-1zM197 316h1v1h-1zM198 316h1v1h-1zM199 316h1v1h-1zM203 316h1v1h-1zM205 316h1v1h-1zM206 316h1v1h-1zM211 316h1v1h-1zM218 316h1v1h-1zM60 317h1v1h-1zM61 317h1v1h-1zM65 317h1v1h-1zM70 317h1v1h-1zM71 317h1v1h-1zM72 317h1v1h-1zM75 317h1v1h-1zM76 317h1v1h-1zM85 317h1v1h-1zM87 317h1v1h-1zM88 317h1v1h-1zM91 317h1v1h-1zM92 317h1v1h-1zM99 317h1v1h-1zM182 317h1v1h-1zM186 317h1v1h-1zM187 317h1v1h-1zM195 317h1v1h-1zM196 317h1v1h-1zM200 317h1v1h-1zM205 317h1v1h-1zM208 317h1v1h-1zM210 317h1v1h-1zM61 318h1v1h-1zM64 318h1v1h-1zM68 318h1v1h-1zM70 318h1v1h-1zM73 318h1v1h-1zM74 318h1v1h-1zM75 318h1v1h-1zM83 318h1v1h-1zM87 318h1v1h-1zM88 318h1v1h-1zM93 318h1v1h-1zM95 318h1v1h-1zM97 318h1v1h-1zM182 318h1v1h-1zM186 318h1v1h-1zM189 318h1v1h-1zM200 318h1v1h-1zM202 318h1v1h-1zM208 318h1v1h-1zM209 318h1v1h-1zM212 318h1v1h-1zM67 321h1v1h-1zM71 321h1v1h-1zM74 321h1v1h-1zM75 321h1v1h-1zM76 321h1v1h-1zM80 321h1v1h-1zM84 321h1v1h-1zM87 321h1v1h-1zM88 321h1v1h-1zM89 321h1v1h-1zM91 321h1v1h-1zM95 321h1v1h-1zM96 321h1v1h-1zM97 321h1v1h-1zM192 321h1v1h-1zM198 321h1v1h-1zM200 321h1v1h-1zM206 321h1v1h-1zM207 321h1v1h-1zM208 321h1v1h-1zM210 321h1v1h-1zM68 322h1v1h-1zM69 322h1v1h-1zM70 322h1v1h-1zM71 322h1v1h-1zM72 322h1v1h-1zM74 322h1v1h-1zM75 322h1v1h-1zM77 322h1v1h-1zM80 322h1v1h-1zM81 322h1v1h-1zM83 322h1v1h-1zM85 322h1v1h-1zM86 322h1v1h-1zM90 322h1v1h-1zM93 322h1v1h-1zM97 322h1v1h-1zM182 322h1v1h-1zM190 322h1v1h-1zM191 322h1v1h-1zM193 322h1v1h-1zM194 322h1v1h-1zM195 322h1v1h-1zM199 322h1v1h-1zM201 322h1v1h-1zM207 322h1v1h-1zM211 322h1v1h-1zM215 322h1v1h-1zM68 323h1v1h-1zM69 323h1v1h-1zM70 323h1v1h-1zM71 323h1v1h-1zM74 323h1v1h-1zM77 323h1v1h-1zM85 323h1v1h-1zM86 323h1v1h-1zM90 323h1v1h-1zM92 323h1v1h-1zM95 323h1v1h-1zM96 323h1v1h-1zM98 323h1v1h-1zM99 323h1v1h-1zM101 323h1v1h-1zM180 323h1v1h-1zM183 323h1v1h-1zM186 323h1v1h-1zM187 323h1v1h-1zM191 323h1v1h-1zM192 323h1v1h-1zM193 323h1v1h-1zM194 323h1v1h-1zM195 323h1v1h-1zM196 323h1v1h-1zM197 323h1v1h-1zM198 323h1v1h-1zM201 323h1v1h-1zM206 323h1v1h-1zM208 323h1v1h-1zM211 323h1v1h-1zM212 323h1v1h-1zM213 323h1v1h-1zM64 324h1v1h-1zM65 324h1v1h-1zM66 324h1v1h-1zM68 324h1v1h-1zM69 324h1v1h-1zM71 324h1v1h-1zM76 324h1v1h-1zM78 324h1v1h-1zM81 324h1v1h-1zM83 324h1v1h-1zM86 324h1v1h-1zM87 324h1v1h-1zM92 324h1v1h-1zM95 324h1v1h-1zM97 324h1v1h-1zM179 324h1v1h-1zM188 324h1v1h-1zM196 324h1v1h-1zM199 324h1v1h-1zM202 324h1v1h-1zM203 324h1v1h-1zM206 324h1v1h-1zM211 324h1v1h-1zM212 324h1v1h-1zM214 324h1v1h-1zM218 324h1v1h-1zM220 324h1v1h-1zM65 325h1v1h-1zM68 325h1v1h-1zM69 325h1v1h-1zM73 325h1v1h-1zM75 325h1v1h-1zM79 325h1v1h-1zM82 325h1v1h-1zM83 325h1v1h-1zM87 325h1v1h-1zM90 325h1v1h-1zM91 325h1v1h-1zM93 325h1v1h-1zM97 325h1v1h-1zM98 325h1v1h-1zM99 325h1v1h-1zM102 325h1v1h-1zM177 325h1v1h-1zM178 325h1v1h-1zM181 325h1v1h-1zM188 325h1v1h-1zM194 325h1v1h-1zM198 325h1v1h-1zM204 325h1v1h-1zM210 325h1v1h-1zM216 325h1v1h-1zM218 325h1v1h-1zM61 326h1v1h-1zM62 326h1v1h-1zM63 326h1v1h-1zM64 326h1v1h-1zM65 326h1v1h-1zM68 326h1v1h-1zM72 326h1v1h-1zM73 326h1v1h-1zM74 326h1v1h-1zM78 326h1v1h-1zM83 326h1v1h-1zM86 326h1v1h-1zM87 326h1v1h-1zM92 326h1v1h-1zM94 326h1v1h-1zM95 326h1v1h-1zM103 326h1v1h-1zM104 326h1v1h-1zM179 326h1v1h-1zM180 326h1v1h-1zM188 326h1v1h-1zM189 326h1v1h-1zM191 326h1v1h-1zM193 326h1v1h-1zM195 326h1v1h-1zM196 326h1v1h-1zM201 326h1v1h-1zM205 326h1v1h-1zM208 326h1v1h-1zM210 326h1v1h-1zM215 326h1v1h-1zM216 326h1v1h-1zM218 326h1v1h-1zM221 326h1v1h-1zM64 327h1v1h-1zM67 327h1v1h-1zM69 327h1v1h-1zM70 327h1v1h-1zM72 327h1v1h-1zM75 327h1v1h-1zM81 327h1v1h-1zM83 327h1v1h-1zM85 327h1v1h-1zM86 327h1v1h-1zM87 327h1v1h-1zM89 327h1v1h-1zM93 327h1v1h-1zM97 327h1v1h-1zM100 327h1v1h-1zM177 327h1v1h-1zM178 327h1v1h-1zM181 327h1v1h-1zM183 327h1v1h-1zM186 327h1v1h-1zM187 327h1v1h-1zM191 327h1v1h-1zM192 327h1v1h-1zM194 327h1v1h-1zM196 327h1v1h-1zM198 327h1v1h-1zM206 327h1v1h-1zM207 327h1v1h-1zM208 327h1v1h-1zM209 327h1v1h-1zM215 327h1v1h-1zM217 327h1v1h-1zM63 328h1v1h-1zM65 328h1v1h-1zM66 328h1v1h-1zM74 328h1v1h-1zM75 328h1v1h-1zM76 328h1v1h-1zM82 328h1v1h-1zM84 328h1v1h-1zM92 328h1v1h-1zM94 328h1v1h-1zM99 328h1v1h-1zM100 328h1v1h-1zM101 328h1v1h-1zM103 328h1v1h-1zM178 328h1v1h-1zM179 328h1v1h-1zM180 328h1v1h-1zM183 328h1v1h-1zM186 328h1v1h-1zM188 328h1v1h-1zM194 328h1v1h-1zM195 328h1v1h-1zM196 328h1v1h-1zM199 328h1v1h-1zM200 328h1v1h-1zM207 328h1v1h-1zM211 328h1v1h-1zM214 328h1v1h-1zM218 328h1v1h-1zM221 328h1v1h-1zM62 329h1v1h-1zM65 329h1v1h-1zM66 329h1v1h-1zM68 329h1v1h-1zM77 329h1v1h-1zM82 329h1v1h-1zM83 329h1v1h-1zM85 329h1v1h-1zM88 329h1v1h-1zM91 329h1v1h-1zM92 329h1v1h-1zM96 329h1v1h-1zM100 329h1v1h-1zM104 329h1v1h-1zM183 329h1v1h-1zM184 329h1v1h-1zM185 329h1v1h-1zM191 329h1v1h-1zM196 329h1v1h-1zM200 329h1v1h-1zM202 329h1v1h-1zM204 329h1v1h-1zM205 329h1v1h-1zM207 329h1v1h-1zM209 329h1v1h-1zM210 329h1v1h-1zM212 329h1v1h-1zM216 329h1v1h-1zM220 329h1v1h-1zM221 329h1v1h-1zM222 329h1v1h-1zM64 330h1v1h-1zM68 330h1v1h-1zM70 330h1v1h-1zM72 330h1v1h-1zM73 330h1v1h-1zM75 330h1v1h-1zM76 330h1v1h-1zM78 330h1v1h-1zM79 330h1v1h-1zM80 330h1v1h-1zM84 330h1v1h-1zM85 330h1v1h-1zM92 330h1v1h-1zM99 330h1v1h-1zM104 330h1v1h-1zM179 330h1v1h-1zM181 330h1v1h-1zM184 330h1v1h-1zM187 330h1v1h-1zM189 330h1v1h-1zM192 330h1v1h-1zM193 330h1v1h-1zM195 330h1v1h-1zM196 330h1v1h-1zM198 330h1v1h-1zM200 330h1v1h-1zM203 330h1v1h-1zM211 330h1v1h-1zM212 330h1v1h-1zM214 330h1v1h-1zM61 331h1v1h-1zM62 331h1v1h-1zM67 331h1v1h-1zM71 331h1v1h-1zM74 331h1v1h-1zM75 331h1v1h-1zM77 331h1v1h-1zM80 331h1v1h-1zM81 331h1v1h-1zM85 331h1v1h-1zM88 331h1v1h-1zM89 331h1v1h-1zM93 331h1v1h-1zM96 331h1v1h-1zM100 331h1v1h-1zM177 331h1v1h-1zM179 331h1v1h-1zM183 331h1v1h-1zM184 331h1v1h-1zM186 331h1v1h-1zM188 331h1v1h-1zM191 331h1v1h-1zM193 331h1v1h-1zM201 331h1v1h-1zM203 331h1v1h-1zM206 331h1v1h-1zM211 331h1v1h-1zM212 331h1v1h-1zM216 331h1v1h-1zM68 332h1v1h-1zM70 332h1v1h-1zM75 332h1v1h-1zM76 332h1v1h-1zM81 332h1v1h-1zM87 332h1v1h-1zM91 332h1v1h-1zM94 332h1v1h-1zM95 332h1v1h-1zM96 332h1v1h-1zM98 332h1v1h-1zM99 332h1v1h-1zM101 332h1v1h-1zM178 332h1v1h-1zM181 332h1v1h-1zM182 332h1v1h-1zM183 332h1v1h-1zM189 332h1v1h-1zM190 332h1v1h-1zM193 332h1v1h-1zM194 332h1v1h-1zM202 332h1v1h-1zM203 332h1v1h-1zM206 332h1v1h-1zM207 332h1v1h-1zM208 332h1v1h-1zM210 332h1v1h-1zM211 332h1v1h-1zM212 332h1v1h-1zM215 332h1v1h-1zM63 333h1v1h-1zM66 333h1v1h-1zM69 333h1v1h-1zM71 333h1v1h-1zM75 333h1v1h-1zM76 333h1v1h-1zM78 333h1v1h-1zM84 333h1v1h-1zM85 333h1v1h-1zM87 333h1v1h-1zM89 333h1v1h-1zM92 333h1v1h-1zM94 333h1v1h-1zM103 333h1v1h-1zM177 333h1v1h-1zM183 333h1v1h-1zM184 333h1v1h-1zM186 333h1v1h-1zM189 333h1v1h-1zM199 333h1v1h-1zM200 333h1v1h-1zM201 333h1v1h-1zM202 333h1v1h-1zM204 333h1v1h-1zM210 333h1v1h-1zM219 333h1v1h-1zM220 333h1v1h-1zM63 334h1v1h-1zM65 334h1v1h-1zM66 334h1v1h-1zM67 334h1v1h-1zM69 334h1v1h-1zM70 334h1v1h-1zM76 334h1v1h-1zM84 334h1v1h-1zM85 334h1v1h-1zM92 334h1v1h-1zM96 334h1v1h-1zM103 334h1v1h-1zM177 334h1v1h-1zM178 334h1v1h-1zM179 334h1v1h-1zM183 334h1v1h-1zM187 334h1v1h-1zM188 334h1v1h-1zM189 334h1v1h-1zM194 334h1v1h-1zM195 334h1v1h-1zM198 334h1v1h-1zM201 334h1v1h-1zM202 334h1v1h-1zM203 334h1v1h-1zM210 334h1v1h-1zM212 334h1v1h-1zM215 334h1v1h-1zM218 334h1v1h-1zM220 334h1v1h-1zM221 334h1v1h-1zM64 335h1v1h-1zM68 335h1v1h-1zM69 335h1v1h-1zM72 335h1v1h-1zM73 335h1v1h-1zM76 335h1v1h-1zM78 335h1v1h-1zM79 335h1v1h-1zM80 335h1v1h-1zM81 335h1v1h-1zM86 335h1v1h-1zM87 335h1v1h-1zM100 335h1v1h-1zM104 335h1v1h-1zM177 335h1v1h-1zM178 335h1v1h-1zM179 335h1v1h-1zM185 335h1v1h-1zM186 335h1v1h-1zM188 335h1v1h-1zM191 335h1v1h-1zM192 335h1v1h-1zM201 335h1v1h-1zM202 335h1v1h-1zM204 335h1v1h-1zM205 335h1v1h-1zM206 335h1v1h-1zM207 335h1v1h-1zM209 335h1v1h-1zM210 335h1v1h-1zM213 335h1v1h-1zM216 335h1v1h-1zM217 335h1v1h-1zM219 335h1v1h-1zM220 335h1v1h-1zM64 336h1v1h-1zM67 336h1v1h-1zM75 336h1v1h-1zM78 336h1v1h-1zM83 336h1v1h-1zM85 336h1v1h-1zM89 336h1v1h-1zM90 336h1v1h-1zM91 336h1v1h-1zM96 336h1v1h-1zM99 336h1v1h-1zM100 336h1v1h-1zM101 336h1v1h-1zM103 336h1v1h-1zM104 336h1v1h-1zM177 336h1v1h-1zM179 336h1v1h-1zM180 336h1v1h-1zM183 336h1v1h-1zM185 336h1v1h-1zM193 336h1v1h-1zM195 336h1v1h-1zM197 336h1v1h-1zM199 336h1v1h-1zM200 336h1v1h-1zM208 336h1v1h-1zM211 336h1v1h-1zM212 336h1v1h-1zM216 336h1v1h-1zM218 336h1v1h-1zM219 336h1v1h-1zM222 336h1v1h-1zM63 337h1v1h-1zM64 337h1v1h-1zM65 337h1v1h-1zM72 337h1v1h-1zM76 337h1v1h-1zM78 337h1v1h-1zM84 337h1v1h-1zM86 337h1v1h-1zM89 337h1v1h-1zM93 337h1v1h-1zM100 337h1v1h-1zM104 337h1v1h-1zM179 337h1v1h-1zM183 337h1v1h-1zM186 337h1v1h-1zM191 337h1v1h-1zM192 337h1v1h-1zM194 337h1v1h-1zM196 337h1v1h-1zM198 337h1v1h-1zM205 337h1v1h-1zM207 337h1v1h-1zM208 337h1v1h-1zM214 337h1v1h-1zM215 337h1v1h-1zM216 337h1v1h-1zM219 337h1v1h-1zM220 337h1v1h-1zM222 337h1v1h-1zM63 338h1v1h-1zM66 338h1v1h-1zM76 338h1v1h-1zM88 338h1v1h-1zM89 338h1v1h-1zM94 338h1v1h-1zM95 338h1v1h-1zM96 338h1v1h-1zM98 338h1v1h-1zM100 338h1v1h-1zM182 338h1v1h-1zM185 338h1v1h-1zM186 338h1v1h-1zM189 338h1v1h-1zM191 338h1v1h-1zM194 338h1v1h-1zM196 338h1v1h-1zM203 338h1v1h-1zM206 338h1v1h-1zM208 338h1v1h-1zM210 338h1v1h-1zM212 338h1v1h-1zM213 338h1v1h-1zM215 338h1v1h-1zM219 338h1v1h-1zM222 338h1v1h-1zM66 339h1v1h-1zM68 339h1v1h-1zM74 339h1v1h-1zM76 339h1v1h-1zM77 339h1v1h-1zM78 339h1v1h-1zM79 339h1v1h-1zM80 339h1v1h-1zM81 339h1v1h-1zM83 339h1v1h-1zM85 339h1v1h-1zM86 339h1v1h-1zM88 339h1v1h-1zM91 339h1v1h-1zM92 339h1v1h-1zM97 339h1v1h-1zM98 339h1v1h-1zM100 339h1v1h-1zM101 339h1v1h-1zM102 339h1v1h-1zM178 339h1v1h-1zM184 339h1v1h-1zM188 339h1v1h-1zM189 339h1v1h-1zM190 339h1v1h-1zM192 339h1v1h-1zM197 339h1v1h-1zM198 339h1v1h-1zM201 339h1v1h-1zM209 339h1v1h-1zM212 339h1v1h-1zM214 339h1v1h-1zM66 340h1v1h-1zM67 340h1v1h-1zM69 340h1v1h-1zM70 340h1v1h-1zM71 340h1v1h-1zM72 340h1v1h-1zM74 340h1v1h-1zM76 340h1v1h-1zM81 340h1v1h-1zM85 340h1v1h-1zM90 340h1v1h-1zM93 340h1v1h-1zM99 340h1v1h-1zM100 340h1v1h-1zM179 340h1v1h-1zM180 340h1v1h-1zM188 340h1v1h-1zM197 340h1v1h-1zM200 340h1v1h-1zM205 340h1v1h-1zM208 340h1v1h-1zM210 340h1v1h-1zM211 340h1v1h-1zM215 340h1v1h-1zM217 340h1v1h-1zM219 340h1v1h-1zM221 340h1v1h-1zM222 340h1v1h-1zM76 341h1v1h-1zM81 341h1v1h-1zM82 341h1v1h-1zM85 341h1v1h-1zM88 341h1v1h-1zM89 341h1v1h-1zM90 341h1v1h-1zM93 341h1v1h-1zM96 341h1v1h-1zM100 341h1v1h-1zM101 341h1v1h-1zM102 341h1v1h-1zM180 341h1v1h-1zM183 341h1v1h-1zM184 341h1v1h-1zM187 341h1v1h-1zM188 341h1v1h-1zM197 341h1v1h-1zM205 341h1v1h-1zM208 341h1v1h-1zM211 341h1v1h-1zM213 341h1v1h-1zM215 341h1v1h-1zM219 341h1v1h-1zM62 342h1v1h-1zM69 342h1v1h-1zM72 342h1v1h-1zM73 342h1v1h-1zM74 342h1v1h-1zM75 342h1v1h-1zM77 342h1v1h-1zM78 342h1v1h-1zM82 342h1v1h-1zM83 342h1v1h-1zM85 342h1v1h-1zM87 342h1v1h-1zM90 342h1v1h-1zM91 342h1v1h-1zM93 342h1v1h-1zM98 342h1v1h-1zM102 342h1v1h-1zM182 342h1v1h-1zM187 342h1v1h-1zM191 342h1v1h-1zM192 342h1v1h-1zM193 342h1v1h-1zM194 342h1v1h-1zM195 342h1v1h-1zM197 342h1v1h-1zM198 342h1v1h-1zM202 342h1v1h-1zM203 342h1v1h-1zM207 342h1v1h-1zM208 342h1v1h-1zM211 342h1v1h-1zM212 342h1v1h-1zM214 342h1v1h-1zM216 342h1v1h-1zM218 342h1v1h-1zM62 343h1v1h-1zM65 343h1v1h-1zM69 343h1v1h-1zM79 343h1v1h-1zM83 343h1v1h-1zM84 343h1v1h-1zM86 343h1v1h-1zM87 343h1v1h-1zM89 343h1v1h-1zM91 343h1v1h-1zM98 343h1v1h-1zM99 343h1v1h-1zM103 343h1v1h-1zM178 343h1v1h-1zM183 343h1v1h-1zM185 343h1v1h-1zM186 343h1v1h-1zM189 343h1v1h-1zM202 343h1v1h-1zM203 343h1v1h-1zM204 343h1v1h-1zM207 343h1v1h-1zM211 343h1v1h-1zM214 343h1v1h-1zM220 343h1v1h-1zM63 344h1v1h-1zM64 344h1v1h-1zM65 344h1v1h-1zM66 344h1v1h-1zM67 344h1v1h-1zM70 344h1v1h-1zM78 344h1v1h-1zM80 344h1v1h-1zM84 344h1v1h-1zM86 344h1v1h-1zM87 344h1v1h-1zM88 344h1v1h-1zM92 344h1v1h-1zM93 344h1v1h-1zM181 344h1v1h-1zM182 344h1v1h-1zM184 344h1v1h-1zM187 344h1v1h-1zM189 344h1v1h-1zM190 344h1v1h-1zM196 344h1v1h-1zM197 344h1v1h-1zM198 344h1v1h-1zM199 344h1v1h-1zM204 344h1v1h-1zM206 344h1v1h-1zM213 344h1v1h-1zM214 344h1v1h-1zM218 344h1v1h-1zM66 345h1v1h-1zM69 345h1v1h-1zM73 345h1v1h-1zM74 345h1v1h-1zM76 345h1v1h-1zM77 345h1v1h-1zM80 345h1v1h-1zM82 345h1v1h-1zM83 345h1v1h-1zM88 345h1v1h-1zM99 345h1v1h-1zM101 345h1v1h-1zM180 345h1v1h-1zM181 345h1v1h-1zM184 345h1v1h-1zM196 345h1v1h-1zM198 345h1v1h-1zM199 345h1v1h-1zM203 345h1v1h-1zM207 345h1v1h-1zM210 345h1v1h-1zM212 345h1v1h-1zM213 345h1v1h-1zM69 346h1v1h-1zM74 346h1v1h-1zM77 346h1v1h-1zM78 346h1v1h-1zM79 346h1v1h-1zM80 346h1v1h-1zM81 346h1v1h-1zM82 346h1v1h-1zM85 346h1v1h-1zM93 346h1v1h-1zM98 346h1v1h-1zM182 346h1v1h-1zM183 346h1v1h-1zM188 346h1v1h-1zM194 346h1v1h-1zM196 346h1v1h-1zM198 346h1v1h-1zM203 346h1v1h-1zM204 346h1v1h-1zM205 346h1v1h-1zM209 346h1v1h-1zM213 346h1v1h-1zM218 346h1v1h-1zM194 347h1v1h-1zM196 347h1v1h-1zM200 347h1v1h-1zM202 347h1v1h-1zM203 347h1v1h-1zM206 347h1v1h-1zM208 347h1v1h-1zM209 347h1v1h-1zM210 347h1v1h-1zM214 347h1v1h-1z"/>
<path fill="#5a5a5a" d="M66 264h1v1h-1zM68 264h1v1h-1zM75 264h1v1h-1zM82 264h1v1h-1zM90 264h1v1h-1zM70 265h1v1h-1zM74 265h1v1h-1zM76 265h1v1h-1zM77 265h1v1h-1zM79 265h1v1h-1zM80 265h1v1h-1zM81 265h1v1h-1zM82 265h1v1h-1zM84 265h1v1h-1zM85 265h1v1h-1zM86 265h1v1h-1zM89 265h1v1h-1zM90 265h1v1h-1zM92 265h1v1h-1zM64 266h1v1h-1zM68 266h1v1h-1zM69 266h1v1h-1zM72 266h1v1h-1zM75 266h1v1h-1zM76 266h1v1h-1zM77 266h1v1h-1zM78 266h1v1h-1zM79 266h1v1h-1zM82 266h1v1h-1zM83 266h1v1h-1zM90 266h1v1h-1zM76 267h1v1h-1zM79 267h1v1h-1zM83 267h1v1h-1zM87 267h1v1h-1zM92 267h1v1h-1zM69 268h1v1h-1zM75 268h1v1h-1zM85 268h1v1h-1zM67 269h1v1h-1zM68 269h1v1h-1zM69 269h1v1h-1zM72 269h1v1h-1zM87 269h1v1h-1zM88 269h1v1h-1zM92 269h1v1h-1zM93 269h1v1h-1zM65 270h1v1h-1zM67 270h1v1h-1zM69 270h1v1h-1zM72 270h1v1h-1zM89 270h1v1h-1zM91 270h1v1h-1zM94 270h1v1h-1zM64 271h1v1h-1zM67 271h1v1h-1zM68 271h1v1h-1zM71 271h1v1h-1zM88 271h1v1h-1zM91 271h1v1h-1zM94 271h1v1h-1zM64 272h1v1h-1zM68 272h1v1h-1zM69 272h1v1h-1zM89 272h1v1h-1zM90 272h1v1h-1zM91 272h1v1h-1zM194 272h1v1h-1zM197 272h1v1h-1zM202 272h1v1h-1zM64 273h1v1h-1zM66 273h1v1h-1zM67 273h1v1h-1zM70 273h1v1h-1zM90 273h1v1h-1zM92 273h1v1h-1zM196 273h1v1h-1zM197 273h1v1h-1zM200 273h1v1h-1zM201 273h1v1h-1zM69 274h1v1h-1zM90 274h1v1h-1zM94 274h1v1h-1zM192 274h1v1h-1zM193 274h1v1h-1zM195 274h1v1h-1zM196 274h1v1h-1zM204 274h1v1h-1zM64 275h1v1h-1zM68 275h1v1h-1zM69 275h1v1h-1zM91 275h1v1h-1zM92 275h1v1h-1zM93 275h1v1h-1zM94 275h1v1h-1zM192 275h1v1h-1zM197 275h1v1h-1zM200 275h1v1h-1zM203 275h1v1h-1zM205 275h1v1h-1zM65 276h1v1h-1zM92 276h1v1h-1zM93 276h1v1h-1zM95 276h1v1h-1zM191 276h1v1h-1zM192 276h1v1h-1zM195 276h1v1h-1zM200 276h1v1h-1zM202 276h1v1h-1zM65 277h1v1h-1zM68 277h1v1h-1zM92 277h1v1h-1zM94 277h1v1h-1zM192 277h1v1h-1zM201 277h1v1h-1zM202 277h1v1h-1zM203 277h1v1h-1zM91 278h1v1h-1zM94 278h1v1h-1zM192 278h1v1h-1zM193 278h1v1h-1zM203 278h1v1h-1zM205 278h1v1h-1zM64 279h1v1h-1zM93 279h1v1h-1zM95 279h1v1h-1zM191 279h1v1h-1zM203 279h1v1h-1zM204 279h1v1h-1zM206 279h1v1h-1zM64 280h1v1h-1zM65 280h1v1h-1zM67 280h1v1h-1zM93 280h1v1h-1zM205 280h1v1h-1zM206 280h1v1h-1zM207 280h1v1h-1zM64 281h1v1h-1zM65 281h1v1h-1zM94 281h1v1h-1zM190 281h1v1h-1zM191 281h1v1h-1zM64 282h1v1h-1zM65 282h1v1h-1zM67 282h1v1h-1zM92 282h1v1h-1zM93 282h1v1h-1zM207 282h1v1h-1zM64 283h1v1h-1zM91 283h1v1h-1zM92 283h1v1h-1zM94 283h1v1h-1zM204 283h1v1h-1zM205 283h1v1h-1zM64 284h1v1h-1zM66 284h1v1h-1zM68 284h1v1h-1zM191 284h1v1h-1zM206 284h1v1h-1zM207 284h1v1h-1zM63 285h1v1h-1zM64 285h1v1h-1zM66 285h1v1h-1zM93 285h1v1h-1zM94 285h1v1h-1zM95 285h1v1h-1zM190 285h1v1h-1zM191 285h1v1h-1zM205 285h1v1h-1zM67 286h1v1h-1zM90 286h1v1h-1zM91 286h1v1h-1zM92 286h1v1h-1zM93 286h1v1h-1zM190 286h1v1h-1zM191 286h1v1h-1zM206 286h1v1h-1zM64 287h1v1h-1zM90 287h1v1h-1zM92 287h1v1h-1zM190 287h1v1h-1zM207 287h1v1h-1zM67 288h1v1h-1zM69 288h1v1h-1zM90 288h1v1h-1zM91 288h1v1h-1zM92 288h1v1h-1zM93 288h1v1h-1zM191 288h1v1h-1zM206 288h1v1h-1zM207 288h1v1h-1zM66 289h1v1h-1zM68 289h1v1h-1zM69 289h1v1h-1zM95 289h1v1h-1zM190 289h1v1h-1zM205 289h1v1h-1zM206 289h1v1h-1zM207 289h1v1h-1zM66 290h1v1h-1zM92 290h1v1h-1zM94 290h1v1h-1zM190 290h1v1h-1zM68 291h1v1h-1zM93 291h1v1h-1zM95 291h1v1h-1zM205 291h1v1h-1zM206 291h1v1h-1zM66 292h1v1h-1zM70 292h1v1h-1zM90 292h1v1h-1zM91 292h1v1h-1zM93 292h1v1h-1zM94 292h1v1h-1zM65 293h1v1h-1zM66 293h1v1h-1zM67 293h1v1h-1zM69 293h1v1h-1zM70 293h1v1h-1zM94 293h1v1h-1zM191 293h1v1h-1zM64 294h1v1h-1zM65 294h1v1h-1zM69 294h1v1h-1zM93 294h1v1h-1zM95 294h1v1h-1zM188 294h1v1h-1zM190 294h1v1h-1zM192 294h1v1h-1zM206 294h1v1h-1zM67 295h1v1h-1zM70 295h1v1h-1zM89 295h1v1h-1zM91 295h1v1h-1zM92 295h1v1h-1zM94 295h1v1h-1zM190 295h1v1h-1zM204 295h1v1h-1zM205 295h1v1h-1zM71 296h1v1h-1zM88 296h1v1h-1zM89 296h1v1h-1zM190 296h1v1h-1zM191 296h1v1h-1zM193 296h1v1h-1zM66 297h1v1h-1zM68 297h1v1h-1zM69 297h1v1h-1zM70 297h1v1h-1zM91 297h1v1h-1zM92 297h1v1h-1zM93 297h1v1h-1zM189 297h1v1h-1zM202 297h1v1h-1zM203 297h1v1h-1zM65 298h1v1h-1zM67 298h1v1h-1zM69 298h1v1h-1zM70 298h1v1h-1zM88 298h1v1h-1zM90 298h1v1h-1zM191 298h1v1h-1zM194 298h1v1h-1zM202 298h1v1h-1zM203 298h1v1h-1zM204 298h1v1h-1zM71 299h1v1h-1zM72 299h1v1h-1zM90 299h1v1h-1zM91 299h1v1h-1zM92 299h1v1h-1zM94 299h1v1h-1zM193 299h1v1h-1zM195 299h1v1h-1zM205 299h1v1h-1zM64 300h1v1h-1zM69 300h1v1h-1zM72 300h1v1h-1zM88 300h1v1h-1zM198 300h1v1h-1zM200 300h1v1h-1zM201 300h1v1h-1zM204 300h1v1h-1zM64 301h1v1h-1zM65 301h1v1h-1zM66 301h1v1h-1zM70 301h1v1h-1zM71 301h1v1h-1zM90 301h1v1h-1zM91 301h1v1h-1zM95 301h1v1h-1zM203 301h1v1h-1zM204 301h1v1h-1zM64 302h1v1h-1zM66 302h1v1h-1zM67 302h1v1h-1zM68 302h1v1h-1zM69 302h1v1h-1zM70 302h1v1h-1zM71 302h1v1h-1zM73 302h1v1h-1zM88 302h1v1h-1zM89 302h1v1h-1zM90 302h1v1h-1zM91 302h1v1h-1zM95 302h1v1h-1zM191 302h1v1h-1zM193 302h1v1h-1zM194 302h1v1h-1zM195 302h1v1h-1zM198 302h1v1h-1zM199 302h1v1h-1zM201 302h1v1h-1zM202 302h1v1h-1zM65 303h1v1h-1zM66 303h1v1h-1zM68 303h1v1h-1zM73 303h1v1h-1zM86 303h1v1h-1zM90 303h1v1h-1zM92 303h1v1h-1zM195 303h1v1h-1zM197 303h1v1h-1zM199 303h1v1h-1zM204 303h1v1h-1zM206 303h1v1h-1zM64 304h1v1h-1zM67 304h1v1h-1zM68 304h1v1h-1zM71 304h1v1h-1zM72 304h1v1h-1zM92 304h1v1h-1zM93 304h1v1h-1zM192 304h1v1h-1zM194 304h1v1h-1zM196 304h1v1h-1zM198 304h1v1h-1zM199 304h1v1h-1zM204 304h1v1h-1zM65 305h1v1h-1zM66 305h1v1h-1zM67 305h1v1h-1zM71 305h1v1h-1zM73 305h1v1h-1zM86 305h1v1h-1zM88 305h1v1h-1zM90 305h1v1h-1zM203 305h1v1h-1zM66 306h1v1h-1zM67 306h1v1h-1zM89 306h1v1h-1zM91 306h1v1h-1zM93 306h1v1h-1zM95 306h1v1h-1zM192 306h1v1h-1zM193 306h1v1h-1zM197 306h1v1h-1zM200 306h1v1h-1zM204 306h1v1h-1zM68 307h1v1h-1zM69 307h1v1h-1zM71 307h1v1h-1zM84 307h1v1h-1zM86 307h1v1h-1zM89 307h1v1h-1zM91 307h1v1h-1zM95 307h1v1h-1zM193 307h1v1h-1zM195 307h1v1h-1zM198 307h1v1h-1zM199 307h1v1h-1zM202 307h1v1h-1zM67 308h1v1h-1zM70 308h1v1h-1zM72 308h1v1h-1zM74 308h1v1h-1zM84 308h1v1h-1zM85 308h1v1h-1zM86 308h1v1h-1zM88 308h1v1h-1zM90 308h1v1h-1zM192 308h1v1h-1zM197 308h1v1h-1zM198 308h1v1h-1zM200 308h1v1h-1zM64 309h1v1h-1zM71 309h1v1h-1zM74 309h1v1h-1zM84 309h1v1h-1zM87 309h1v1h-1zM201 309h1v1h-1zM65 310h1v1h-1zM68 310h1v1h-1zM69 310h1v1h-1zM72 310h1v1h-1zM76 310h1v1h-1zM83 310h1v1h-1zM84 310h1v1h-1zM88 310h1v1h-1zM89 310h1v1h-1zM93 310h1v1h-1zM94 310h1v1h-1zM196 310h1v1h-1zM65 311h1v1h-1zM75 311h1v1h-1zM86 311h1v1h-1zM88 311h1v1h-1zM89 311h1v1h-1zM67 312h1v1h-1zM69 312h1v1h-1zM71 312h1v1h-1zM73 312h1v1h-1zM75 312h1v1h-1zM82 312h1v1h-1zM84 312h1v1h-1zM86 312h1v1h-1zM92 312h1v1h-1zM73 313h1v1h-1zM75 313h1v1h-1zM76 313h1v1h-1zM81 313h1v1h-1zM83 313h1v1h-1zM84 313h1v1h-1zM85 313h1v1h-1zM89 313h1v1h-1zM68 314h1v1h-1zM73 314h1v1h-1zM75 314h1v1h-1zM76 314h1v1h-1zM77 314h1v1h-1zM83 314h1v1h-1zM88 314h1v1h-1zM91 314h1v1h-1zM73 315h1v1h-1zM75 315h1v1h-1zM82 315h1v1h-1zM84 315h1v1h-1zM88 315h1v1h-1zM69 316h1v1h-1zM71 316h1v1h-1zM72 316h1v1h-1zM75 316h1v1h-1zM80 316h1v1h-1zM81 316h1v1h-1zM83 316h1v1h-1zM86 316h1v1h-1zM90 316h1v1h-1zM76 322h1v1h-1zM79 322h1v1h-1zM88 322h1v1h-1zM89 322h1v1h-1zM95 322h1v1h-1zM192 322h1v1h-1zM196 322h1v1h-1zM203 322h1v1h-1zM209 322h1v1h-1zM210 322h1v1h-1zM72 323h1v1h-1zM73 323h1v1h-1zM75 323h1v1h-1zM76 323h1v1h-1zM78 323h1v1h-1zM81 323h1v1h-1zM82 323h1v1h-1zM84 323h1v1h-1zM87 323h1v1h-1zM89 323h1v1h-1zM93 323h1v1h-1zM97 323h1v1h-1zM184 323h1v1h-1zM188 323h1v1h-1zM189 323h1v1h-1zM199 323h1v1h-1zM202 323h1v1h-1zM203 323h1v1h-1zM204 323h1v1h-1zM205 323h1v1h-1zM207 323h1v1h-1zM209 323h1v1h-1zM210 323h1v1h-1zM217 323h1v1h-1zM67 324h1v1h-1zM70 324h1v1h-1zM72 324h1v1h-1zM74 324h1v1h-1zM75 324h1v1h-1zM89 324h1v1h-1zM90 324h1v1h-1zM93 324h1v1h-1zM98 324h1v1h-1zM186 324h1v1h-1zM187 324h1v1h-1zM189 324h1v1h-1zM190 324h1v1h-1zM191 324h1v1h-1zM194 324h1v1h-1zM200 324h1v1h-1zM201 324h1v1h-1zM204 324h1v1h-1zM207 324h1v1h-1zM208 324h1v1h-1zM213 324h1v1h-1zM215 324h1v1h-1zM67 325h1v1h-1zM85 325h1v1h-1zM89 325h1v1h-1zM182 325h1v1h-1zM212 325h1v1h-1zM213 325h1v1h-1zM215 325h1v1h-1zM66 326h1v1h-1zM67 326h1v1h-1zM76 326h1v1h-1zM79 326h1v1h-1zM80 326h1v1h-1zM96 326h1v1h-1zM98 326h1v1h-1zM99 326h1v1h-1zM100 326h1v1h-1zM101 326h1v1h-1zM181 326h1v1h-1zM182 326h1v1h-1zM183 326h1v1h-1zM184 326h1v1h-1zM211 326h1v1h-1zM214 326h1v1h-1zM217 326h1v1h-1zM66 327h1v1h-1zM88 327h1v1h-1zM91 327h1v1h-1zM94 327h1v1h-1zM213 327h1v1h-1zM67 328h1v1h-1zM73 328h1v1h-1zM86 328h1v1h-1zM93 328h1v1h-1zM96 328h1v1h-1zM97 328h1v1h-1zM102 328h1v1h-1zM182 328h1v1h-1zM217 328h1v1h-1zM219 328h1v1h-1zM84 329h1v1h-1zM86 329h1v1h-1zM97 329h1v1h-1zM99 329h1v1h-1zM180 329h1v1h-1zM181 329h1v1h-1zM217 329h1v1h-1zM218 329h1v1h-1zM66 330h1v1h-1zM94 330h1v1h-1zM96 330h1v1h-1zM97 330h1v1h-1zM98 330h1v1h-1zM100 330h1v1h-1zM180 330h1v1h-1zM213 330h1v1h-1zM216 330h1v1h-1zM66 331h1v1h-1zM70 331h1v1h-1zM79 331h1v1h-1zM82 331h1v1h-1zM87 331h1v1h-1zM94 331h1v1h-1zM95 331h1v1h-1zM98 331h1v1h-1zM99 331h1v1h-1zM101 331h1v1h-1zM102 331h1v1h-1zM180 331h1v1h-1zM182 331h1v1h-1zM64 332h1v1h-1zM65 332h1v1h-1zM66 332h1v1h-1zM67 332h1v1h-1zM77 332h1v1h-1zM86 332h1v1h-1zM88 332h1v1h-1zM90 332h1v1h-1zM92 332h1v1h-1zM97 332h1v1h-1zM100 332h1v1h-1zM180 332h1v1h-1zM214 332h1v1h-1zM216 332h1v1h-1zM218 332h1v1h-1zM219 332h1v1h-1zM220 332h1v1h-1zM64 333h1v1h-1zM65 333h1v1h-1zM70 333h1v1h-1zM91 333h1v1h-1zM95 333h1v1h-1zM97 333h1v1h-1zM100 333h1v1h-1zM101 333h1v1h-1zM182 333h1v1h-1zM216 333h1v1h-1zM64 334h1v1h-1zM68 334h1v1h-1zM94 334h1v1h-1zM97 334h1v1h-1zM98 334h1v1h-1zM100 334h1v1h-1zM101 334h1v1h-1zM181 334h1v1h-1zM213 334h1v1h-1zM63 335h1v1h-1zM65 335h1v1h-1zM91 335h1v1h-1zM95 335h1v1h-1zM97 335h1v1h-1zM98 335h1v1h-1zM99 335h1v1h-1zM101 335h1v1h-1zM181 335h1v1h-1zM182 335h1v1h-1zM214 335h1v1h-1zM65 336h1v1h-1zM66 336h1v1h-1zM73 336h1v1h-1zM76 336h1v1h-1zM92 336h1v1h-1zM95 336h1v1h-1zM97 336h1v1h-1zM181 336h1v1h-1zM182 336h1v1h-1zM215 336h1v1h-1zM66 337h1v1h-1zM67 337h1v1h-1zM77 337h1v1h-1zM94 337h1v1h-1zM95 337h1v1h-1zM98 337h1v1h-1zM101 337h1v1h-1zM102 337h1v1h-1zM178 337h1v1h-1zM180 337h1v1h-1zM181 337h1v1h-1zM182 337h1v1h-1zM211 337h1v1h-1zM217 337h1v1h-1zM218 337h1v1h-1zM64 338h1v1h-1zM65 338h1v1h-1zM73 338h1v1h-1zM80 338h1v1h-1zM83 338h1v1h-1zM97 338h1v1h-1zM99 338h1v1h-1zM101 338h1v1h-1zM180 338h1v1h-1zM181 338h1v1h-1zM211 338h1v1h-1zM218 338h1v1h-1zM65 339h1v1h-1zM90 339h1v1h-1zM96 339h1v1h-1zM99 339h1v1h-1zM182 339h1v1h-1zM213 339h1v1h-1zM216 339h1v1h-1zM64 340h1v1h-1zM65 340h1v1h-1zM79 340h1v1h-1zM82 340h1v1h-1zM95 340h1v1h-1zM96 340h1v1h-1zM101 340h1v1h-1zM213 340h1v1h-1zM218 340h1v1h-1zM65 341h1v1h-1zM66 341h1v1h-1zM67 341h1v1h-1zM73 341h1v1h-1zM78 341h1v1h-1zM79 341h1v1h-1zM94 341h1v1h-1zM97 341h1v1h-1zM98 341h1v1h-1zM99 341h1v1h-1zM181 341h1v1h-1zM182 341h1v1h-1zM212 341h1v1h-1zM216 341h1v1h-1zM217 341h1v1h-1zM218 341h1v1h-1zM65 342h1v1h-1zM66 342h1v1h-1zM86 342h1v1h-1zM95 342h1v1h-1zM96 342h1v1h-1zM97 342h1v1h-1zM99 342h1v1h-1zM100 342h1v1h-1zM181 342h1v1h-1zM183 342h1v1h-1zM219 342h1v1h-1zM66 343h1v1h-1zM68 343h1v1h-1zM70 343h1v1h-1zM71 343h1v1h-1zM73 343h1v1h-1zM74 343h1v1h-1zM77 343h1v1h-1zM81 343h1v1h-1zM90 343h1v1h-1zM93 343h1v1h-1zM95 343h1v1h-1zM97 343h1v1h-1zM182 343h1v1h-1zM213 343h1v1h-1zM217 343h1v1h-1zM68 344h1v1h-1zM69 344h1v1h-1zM71 344h1v1h-1zM72 344h1v1h-1zM76 344h1v1h-1zM79 344h1v1h-1zM81 344h1v1h-1zM82 344h1v1h-1zM89 344h1v1h-1zM90 344h1v1h-1zM91 344h1v1h-1zM99 344h1v1h-1zM180 344h1v1h-1zM185 344h1v1h-1zM186 344h1v1h-1zM191 344h1v1h-1zM193 344h1v1h-1zM195 344h1v1h-1zM201 344h1v1h-1zM202 344h1v1h-1zM205 344h1v1h-1zM209 344h1v1h-1zM215 344h1v1h-1zM71 345h1v1h-1zM85 345h1v1h-1zM86 345h1v1h-1zM89 345h1v1h-1zM90 345h1v1h-1zM91 345h1v1h-1zM93 345h1v1h-1zM94 345h1v1h-1zM95 345h1v1h-1zM185 345h1v1h-1zM188 345h1v1h-1zM190 345h1v1h-1zM192 345h1v1h-1zM194 345h1v1h-1zM197 345h1v1h-1zM201 345h1v1h-1zM204 345h1v1h-1zM211 345h1v1h-1zM215 345h1v1h-1zM216 345h1v1h-1zM187 346h1v1h-1zM195 346h1v1h-1zM201 346h1v1h-1zM206 346h1v1h-1zM208 346h1v1h-1z"/>
<path fill="#1a1a1a" d="M77 264h1v1h-1zM78 264h1v1h-1zM81 264h1v1h-1zM78 267h1v1h-1zM80 267h1v1h-1zM73 268h1v1h-1zM74 268h1v1h-1zM84 268h1v1h-1zM86 268h1v1h-1zM88 268h1v1h-1zM89 269h1v1h-1zM71 270h1v1h-1zM88 270h1v1h-1zM90 270h1v1h-1zM69 271h1v1h-1zM70 271h1v1h-1zM70 272h1v1h-1zM68 274h1v1h-1zM91 274h1v1h-1zM198 275h1v1h-1zM67 276h1v1h-1zM68 276h1v1h-1zM69 276h1v1h-1zM91 276h1v1h-1zM67 277h1v1h-1zM91 277h1v1h-1zM194 277h1v1h-1zM66 278h1v1h-1zM68 278h1v1h-1zM92 278h1v1h-1zM65 279h1v1h-1zM67 279h1v1h-1zM91 279h1v1h-1zM68 280h1v1h-1zM91 280h1v1h-1zM203 280h1v1h-1zM68 281h1v1h-1zM91 281h1v1h-1zM92 281h1v1h-1zM192 281h1v1h-1zM66 282h1v1h-1zM68 282h1v1h-1zM67 283h1v1h-1zM68 283h1v1h-1zM191 283h1v1h-1zM67 284h1v1h-1zM91 284h1v1h-1zM92 284h1v1h-1zM94 284h1v1h-1zM91 285h1v1h-1zM92 285h1v1h-1zM66 286h1v1h-1zM68 286h1v1h-1zM69 286h1v1h-1zM65 287h1v1h-1zM68 287h1v1h-1zM69 287h1v1h-1zM91 287h1v1h-1zM205 287h1v1h-1zM68 288h1v1h-1zM205 288h1v1h-1zM67 289h1v1h-1zM90 289h1v1h-1zM92 289h1v1h-1zM191 289h1v1h-1zM67 290h1v1h-1zM69 290h1v1h-1zM90 290h1v1h-1zM91 290h1v1h-1zM91 291h1v1h-1zM191 291h1v1h-1zM68 292h1v1h-1zM89 293h1v1h-1zM90 293h1v1h-1zM93 293h1v1h-1zM67 294h1v1h-1zM70 294h1v1h-1zM92 294h1v1h-1zM204 294h1v1h-1zM69 295h1v1h-1zM69 296h1v1h-1zM70 296h1v1h-1zM90 296h1v1h-1zM203 296h1v1h-1zM71 297h1v1h-1zM193 297h1v1h-1zM89 298h1v1h-1zM193 298h1v1h-1zM201 298h1v1h-1zM88 299h1v1h-1zM194 299h1v1h-1zM200 299h1v1h-1zM201 299h1v1h-1zM202 299h1v1h-1zM68 300h1v1h-1zM71 300h1v1h-1zM87 300h1v1h-1zM199 300h1v1h-1zM72 301h1v1h-1zM87 301h1v1h-1zM88 301h1v1h-1zM196 301h1v1h-1zM198 301h1v1h-1zM199 301h1v1h-1zM200 301h1v1h-1zM72 302h1v1h-1zM86 302h1v1h-1zM87 302h1v1h-1zM200 302h1v1h-1zM72 303h1v1h-1zM196 303h1v1h-1zM86 304h1v1h-1zM88 304h1v1h-1zM70 305h1v1h-1zM74 305h1v1h-1zM85 305h1v1h-1zM71 306h1v1h-1zM85 306h1v1h-1zM74 307h1v1h-1zM85 310h1v1h-1zM74 311h1v1h-1zM82 313h1v1h-1zM78 314h1v1h-1zM76 315h1v1h-1zM79 315h1v1h-1zM80 315h1v1h-1zM78 316h1v1h-1zM79 316h1v1h-1zM78 322h1v1h-1zM94 323h1v1h-1zM91 324h1v1h-1zM94 324h1v1h-1zM96 324h1v1h-1zM96 325h1v1h-1zM97 326h1v1h-1zM98 327h1v1h-1zM99 327h1v1h-1zM216 327h1v1h-1zM218 327h1v1h-1zM98 328h1v1h-1zM217 330h1v1h-1zM218 330h1v1h-1zM217 331h1v1h-1zM217 332h1v1h-1zM99 333h1v1h-1zM99 334h1v1h-1zM216 334h1v1h-1zM217 334h1v1h-1zM217 336h1v1h-1zM99 337h1v1h-1zM216 338h1v1h-1zM217 339h1v1h-1zM218 339h1v1h-1zM98 340h1v1h-1zM215 342h1v1h-1zM217 342h1v1h-1zM94 343h1v1h-1zM96 343h1v1h-1zM215 343h1v1h-1zM77 344h1v1h-1zM94 344h1v1h-1zM95 344h1v1h-1zM96 344h1v1h-1zM211 344h1v1h-1zM212 344h1v1h-1z"/></g>
<path d="M71.5,284 A8.50,13.00 0 0 0 88.5,284" fill="none" stroke="#666" stroke-width="0.9"/>
<path d="M73.5,291 A6.50,13.00 0 0 0 86.5,291" fill="none" stroke="#666" stroke-width="0.9"/>
<path d="M75.5,298 A4.50,12.50 0 0 0 84.5,298" fill="none" stroke="#777" stroke-width="0.9"/>
<ellipse cx="79.8" cy="283.5" rx="4.8" ry="5.8" fill="none" stroke="#666" stroke-width="0.9"/>
<ellipse cx="80.2" cy="283.0" rx="2.4" ry="3.2" fill="none" stroke="#777" stroke-width="0.8"/>
<path d="M80.0,267.5 L84.6,268.7 L86.4,269.9 L87.6,271.2 L88.6,272.4 L89.3,273.6 L89.9,274.8 L90.3,276.0 L90.6,277.2 L90.9,278.5 L91.0,279.7 L91.0,280.9 L90.9,282.1 L90.8,283.3 L90.7,284.6 L90.6,285.8 L90.4,287.0 L90.2,288.2 L90.0,289.4 L89.7,290.6 L89.5,291.9 L89.2,293.1 L88.9,294.3 L88.6,295.5 L88.3,296.7 L87.9,297.9 L87.6,299.2 L87.2,300.4 L86.8,301.6 L86.3,302.8 L85.9,304.0 L85.4,305.3 L84.9,306.5 L84.4,307.7 L83.8,308.9 L83.2,310.1 L82.6,311.3 L81.9,312.6 L81.1,313.8 L80.0,315.0 L80.0,315.0 L78.9,313.8 L78.1,312.6 L77.4,311.3 L76.8,310.1 L76.2,308.9 L75.6,307.7 L75.1,306.5 L74.6,305.3 L74.1,304.0 L73.7,302.8 L73.2,301.6 L72.8,300.4 L72.4,299.2 L72.1,297.9 L71.7,296.7 L71.4,295.5 L71.1,294.3 L70.8,293.1 L70.5,291.9 L70.3,290.6 L70.0,289.4 L69.8,288.2 L69.6,287.0 L69.4,285.8 L69.3,284.6 L69.2,283.3 L69.1,282.1 L69.0,280.9 L69.0,279.7 L69.1,278.5 L69.4,277.2 L69.7,276.0 L70.1,274.8 L70.7,273.6 L71.4,272.4 L72.4,271.2 L73.6,269.9 L75.4,268.7 L80.0,267.5Z" fill="none" stroke="#444" stroke-width="1" stroke-dasharray="2.5 1"/>
<path d="M100.6,334.0 L100.5,337.6 L100.5,338.9 L100.3,339.8 L100.1,340.6 L99.8,341.3 L99.5,341.8 L99.1,342.3 L98.6,342.7 L98.1,343.1 L97.4,343.5 L96.7,343.7 L95.9,344.0 L95.0,344.2 L93.9,344.3 L92.6,344.5 L91.1,344.6 L88.9,344.6 L83.0,344.6 L77.1,344.6 L74.9,344.6 L73.4,344.5 L72.1,344.3 L71.0,344.2 L70.1,344.0 L69.3,343.7 L68.6,343.5 L67.9,343.1 L67.4,342.7 L66.9,342.3 L66.5,341.8 L66.2,341.3 L65.9,340.6 L65.7,339.8 L65.5,338.9 L65.5,337.6 L65.4,334.0 L65.5,330.4 L65.5,329.1 L65.7,328.2 L65.9,327.4 L66.2,326.7 L66.5,326.2 L66.9,325.7 L67.4,325.3 L67.9,324.9 L68.6,324.5 L69.3,324.3 L70.1,324.0 L71.0,323.8 L72.1,323.7 L73.4,323.5 L74.9,323.4 L77.1,323.4 L83.0,323.4 L88.9,323.4 L91.1,323.4 L92.6,323.5 L93.9,323.7 L95.0,323.8 L95.9,324.0 L96.7,324.3 L97.4,324.5 L98.1,324.9 L98.6,325.3 L99.1,325.7 L99.5,326.2 L99.8,326.7 L100.1,327.4 L100.3,328.2 L100.5,329.1 L100.5,330.4Z" fill="none" stroke="#222" stroke-width="1.1" stroke-dasharray="3 1"/>
<path d="M97.8,334.0 L97.8,337.0 L97.7,338.1 L97.6,338.9 L97.4,339.6 L97.2,340.1 L96.9,340.6 L96.5,341.0 L96.1,341.4 L95.7,341.7 L95.2,342.0 L94.6,342.2 L93.9,342.4 L93.1,342.6 L92.2,342.7 L91.1,342.8 L89.8,342.9 L88.0,342.9 L83.0,343.0 L78.0,342.9 L76.2,342.9 L74.9,342.8 L73.8,342.7 L72.9,342.6 L72.1,342.4 L71.4,342.2 L70.8,342.0 L70.3,341.7 L69.9,341.4 L69.5,341.0 L69.1,340.6 L68.8,340.1 L68.6,339.6 L68.4,338.9 L68.3,338.1 L68.2,337.0 L68.2,334.0 L68.2,331.0 L68.3,329.9 L68.4,329.1 L68.6,328.4 L68.8,327.9 L69.1,327.4 L69.5,327.0 L69.9,326.6 L70.3,326.3 L70.8,326.0 L71.4,325.8 L72.1,325.6 L72.9,325.4 L73.8,325.3 L74.9,325.2 L76.2,325.1 L78.0,325.1 L83.0,325.0 L88.0,325.1 L89.8,325.1 L91.1,325.2 L92.2,325.3 L93.1,325.4 L93.9,325.6 L94.6,325.8 L95.2,326.0 L95.7,326.3 L96.1,326.6 L96.5,327.0 L96.9,327.4 L97.2,327.9 L97.4,328.4 L97.6,329.1 L97.7,329.9 L97.8,331.0Z" fill="none" stroke="#444" stroke-width="0.9" stroke-dasharray="3 1"/>
<path d="M94.7,334.0 L94.6,336.4 L94.6,337.2 L94.5,337.9 L94.3,338.4 L94.2,338.8 L93.9,339.2 L93.7,339.5 L93.4,339.8 L93.0,340.0 L92.6,340.3 L92.1,340.5 L91.6,340.6 L90.9,340.8 L90.2,340.9 L89.4,340.9 L88.4,341.0 L86.9,341.0 L83.0,341.1 L79.1,341.0 L77.6,341.0 L76.6,340.9 L75.8,340.9 L75.1,340.8 L74.4,340.6 L73.9,340.5 L73.4,340.3 L73.0,340.0 L72.6,339.8 L72.3,339.5 L72.1,339.2 L71.8,338.8 L71.7,338.4 L71.5,337.9 L71.4,337.2 L71.4,336.4 L71.3,334.0 L71.4,331.6 L71.4,330.8 L71.5,330.1 L71.7,329.6 L71.8,329.2 L72.1,328.8 L72.3,328.5 L72.6,328.2 L73.0,328.0 L73.4,327.7 L73.9,327.5 L74.4,327.4 L75.1,327.2 L75.8,327.1 L76.6,327.1 L77.6,327.0 L79.1,327.0 L83.0,326.9 L86.9,327.0 L88.4,327.0 L89.4,327.1 L90.2,327.1 L90.9,327.2 L91.6,327.4 L92.1,327.5 L92.6,327.7 L93.0,328.0 L93.4,328.2 L93.7,328.5 L93.9,328.8 L94.2,329.2 L94.3,329.6 L94.5,330.1 L94.6,330.8 L94.6,331.6Z" fill="none" stroke="#555" stroke-width="0.9" stroke-dasharray="none"/>
<path d="M91.3,334.0 L91.3,335.7 L91.3,336.3 L91.2,336.8 L91.1,337.1 L91.0,337.4 L90.8,337.7 L90.6,337.9 L90.4,338.1 L90.1,338.3 L89.8,338.5 L89.5,338.6 L89.1,338.7 L88.7,338.8 L88.2,338.9 L87.6,339.0 L86.8,339.0 L85.8,339.0 L83.0,339.0 L80.2,339.0 L79.2,339.0 L78.4,339.0 L77.8,338.9 L77.3,338.8 L76.9,338.7 L76.5,338.6 L76.2,338.5 L75.9,338.3 L75.6,338.1 L75.4,337.9 L75.2,337.7 L75.0,337.4 L74.9,337.1 L74.8,336.8 L74.7,336.3 L74.7,335.7 L74.7,334.0 L74.7,332.3 L74.7,331.7 L74.8,331.2 L74.9,330.9 L75.0,330.6 L75.2,330.3 L75.4,330.1 L75.6,329.9 L75.9,329.7 L76.2,329.5 L76.5,329.4 L76.9,329.3 L77.3,329.2 L77.8,329.1 L78.4,329.0 L79.2,329.0 L80.2,329.0 L83.0,329.0 L85.8,329.0 L86.8,329.0 L87.6,329.0 L88.2,329.1 L88.7,329.2 L89.1,329.3 L89.5,329.4 L89.8,329.5 L90.1,329.7 L90.4,329.9 L90.6,330.1 L90.8,330.3 L91.0,330.6 L91.1,330.9 L91.2,331.2 L91.3,331.7 L91.3,332.3Z" fill="none" stroke="#666" stroke-width="0.8" stroke-dasharray="none"/>
<path d="M88.0,334.0 L88.0,335.0 L88.0,335.4 L87.9,335.7 L87.9,335.9 L87.8,336.1 L87.7,336.2 L87.6,336.4 L87.4,336.5 L87.3,336.6 L87.1,336.7 L86.9,336.8 L86.7,336.8 L86.4,336.9 L86.1,336.9 L85.7,337.0 L85.3,337.0 L84.7,337.0 L83.0,337.0 L81.3,337.0 L80.7,337.0 L80.3,337.0 L79.9,336.9 L79.6,336.9 L79.3,336.8 L79.1,336.8 L78.9,336.7 L78.7,336.6 L78.6,336.5 L78.4,336.4 L78.3,336.2 L78.2,336.1 L78.1,335.9 L78.1,335.7 L78.0,335.4 L78.0,335.0 L78.0,334.0 L78.0,333.0 L78.0,332.6 L78.1,332.3 L78.1,332.1 L78.2,331.9 L78.3,331.8 L78.4,331.6 L78.6,331.5 L78.7,331.4 L78.9,331.3 L79.1,331.2 L79.3,331.2 L79.6,331.1 L79.9,331.1 L80.3,331.0 L80.7,331.0 L81.3,331.0 L83.0,331.0 L84.7,331.0 L85.3,331.0 L85.7,331.0 L86.1,331.1 L86.4,331.1 L86.7,331.2 L86.9,331.2 L87.1,331.3 L87.3,331.4 L87.4,331.5 L87.6,331.6 L87.7,331.8 L87.8,331.9 L87.9,332.1 L87.9,332.3 L88.0,332.6 L88.0,333.0Z" fill="none" stroke="#777" stroke-width="0.8" stroke-dasharray="none"/>
<path d="M218.1,334.4 L218.1,338.1 L218.0,339.4 L217.8,340.3 L217.6,341.1 L217.3,341.8 L217.0,342.4 L216.6,342.9 L216.1,343.3 L215.5,343.7 L214.8,344.0 L214.1,344.3 L213.2,344.6 L212.2,344.8 L211.1,344.9 L209.8,345.1 L208.1,345.2 L205.9,345.2 L199.6,345.2 L193.3,345.2 L191.1,345.2 L189.4,345.1 L188.1,344.9 L187.0,344.8 L186.0,344.6 L185.1,344.3 L184.4,344.0 L183.7,343.7 L183.1,343.3 L182.6,342.9 L182.2,342.4 L181.9,341.8 L181.6,341.1 L181.4,340.3 L181.2,339.4 L181.1,338.1 L181.1,334.4 L181.1,330.7 L181.2,329.4 L181.4,328.5 L181.6,327.7 L181.9,327.0 L182.2,326.4 L182.6,325.9 L183.1,325.5 L183.7,325.1 L184.4,324.8 L185.1,324.5 L186.0,324.2 L187.0,324.0 L188.1,323.9 L189.4,323.7 L191.1,323.6 L193.3,323.6 L199.6,323.6 L205.9,323.6 L208.1,323.6 L209.8,323.7 L211.1,323.9 L212.2,324.0 L213.2,324.2 L214.1,324.5 L214.8,324.8 L215.5,325.1 L216.1,325.5 L216.6,325.9 L217.0,326.4 L217.3,327.0 L217.6,327.7 L217.8,328.5 L218.0,329.4 L218.1,330.7Z" fill="none" stroke="#222" stroke-width="1.1" stroke-dasharray="3 1"/>
<path d="M215.2,334.4 L215.2,337.5 L215.1,338.6 L215.0,339.4 L214.8,340.1 L214.5,340.6 L214.2,341.1 L213.9,341.5 L213.5,341.9 L213.0,342.2 L212.4,342.5 L211.8,342.7 L211.1,343.0 L210.2,343.1 L209.3,343.3 L208.2,343.4 L206.8,343.5 L204.9,343.5 L199.6,343.5 L194.3,343.5 L192.4,343.5 L191.0,343.4 L189.9,343.3 L189.0,343.1 L188.1,343.0 L187.4,342.7 L186.8,342.5 L186.2,342.2 L185.7,341.9 L185.3,341.5 L185.0,341.1 L184.7,340.6 L184.4,340.1 L184.2,339.4 L184.1,338.6 L184.0,337.5 L184.0,334.4 L184.0,331.3 L184.1,330.2 L184.2,329.4 L184.4,328.7 L184.7,328.2 L185.0,327.7 L185.3,327.3 L185.7,326.9 L186.2,326.6 L186.8,326.3 L187.4,326.1 L188.1,325.8 L189.0,325.7 L189.9,325.5 L191.0,325.4 L192.4,325.3 L194.3,325.3 L199.6,325.3 L204.9,325.3 L206.8,325.3 L208.2,325.4 L209.3,325.5 L210.2,325.7 L211.1,325.8 L211.8,326.1 L212.4,326.3 L213.0,326.6 L213.5,326.9 L213.9,327.3 L214.2,327.7 L214.5,328.2 L214.8,328.7 L215.0,329.4 L215.1,330.2 L215.2,331.3Z" fill="none" stroke="#444" stroke-width="0.9" stroke-dasharray="3 1"/>
<path d="M211.9,334.4 L211.9,336.8 L211.8,337.7 L211.7,338.3 L211.6,338.9 L211.4,339.3 L211.1,339.7 L210.8,340.0 L210.5,340.3 L210.1,340.6 L209.7,340.8 L209.2,341.0 L208.6,341.1 L208.0,341.3 L207.2,341.4 L206.3,341.5 L205.2,341.5 L203.8,341.6 L199.6,341.6 L195.4,341.6 L194.0,341.5 L192.9,341.5 L192.0,341.4 L191.2,341.3 L190.6,341.1 L190.0,341.0 L189.5,340.8 L189.1,340.6 L188.7,340.3 L188.4,340.0 L188.1,339.7 L187.8,339.3 L187.6,338.9 L187.5,338.3 L187.4,337.7 L187.3,336.8 L187.3,334.4 L187.3,332.0 L187.4,331.1 L187.5,330.5 L187.6,329.9 L187.8,329.5 L188.1,329.1 L188.4,328.8 L188.7,328.5 L189.1,328.2 L189.5,328.0 L190.0,327.8 L190.6,327.7 L191.2,327.5 L192.0,327.4 L192.9,327.3 L194.0,327.3 L195.4,327.2 L199.6,327.2 L203.8,327.2 L205.2,327.3 L206.3,327.3 L207.2,327.4 L208.0,327.5 L208.6,327.7 L209.2,327.8 L209.7,328.0 L210.1,328.2 L210.5,328.5 L210.8,328.8 L211.1,329.1 L211.4,329.5 L211.6,329.9 L211.7,330.5 L211.8,331.1 L211.9,332.0Z" fill="none" stroke="#555" stroke-width="0.9" stroke-dasharray="none"/>
<path d="M208.4,334.4 L208.4,336.1 L208.3,336.8 L208.2,337.2 L208.1,337.6 L208.0,337.9 L207.8,338.2 L207.6,338.4 L207.4,338.6 L207.1,338.8 L206.8,339.0 L206.5,339.1 L206.0,339.2 L205.6,339.3 L205.0,339.4 L204.4,339.5 L203.6,339.5 L202.6,339.5 L199.6,339.5 L196.6,339.5 L195.6,339.5 L194.8,339.5 L194.2,339.4 L193.6,339.3 L193.2,339.2 L192.7,339.1 L192.4,339.0 L192.1,338.8 L191.8,338.6 L191.6,338.4 L191.4,338.2 L191.2,337.9 L191.1,337.6 L191.0,337.2 L190.9,336.8 L190.8,336.1 L190.8,334.4 L190.8,332.7 L190.9,332.0 L191.0,331.6 L191.1,331.2 L191.2,330.9 L191.4,330.6 L191.6,330.4 L191.8,330.2 L192.1,330.0 L192.4,329.8 L192.7,329.7 L193.2,329.6 L193.6,329.5 L194.2,329.4 L194.8,329.3 L195.6,329.3 L196.6,329.3 L199.6,329.3 L202.6,329.3 L203.6,329.3 L204.4,329.3 L205.0,329.4 L205.6,329.5 L206.0,329.6 L206.5,329.7 L206.8,329.8 L207.1,330.0 L207.4,330.2 L207.6,330.4 L207.8,330.6 L208.0,330.9 L208.1,331.2 L208.2,331.6 L208.3,332.0 L208.4,332.7Z" fill="none" stroke="#666" stroke-width="0.8" stroke-dasharray="none"/>
<path d="M204.9,334.4 L204.9,335.4 L204.8,335.8 L204.8,336.1 L204.7,336.3 L204.6,336.5 L204.5,336.7 L204.4,336.8 L204.3,336.9 L204.1,337.0 L203.9,337.1 L203.7,337.2 L203.5,337.3 L203.2,337.3 L202.9,337.4 L202.5,337.4 L202.0,337.5 L201.4,337.5 L199.6,337.5 L197.8,337.5 L197.2,337.5 L196.7,337.4 L196.3,337.4 L196.0,337.3 L195.7,337.3 L195.5,337.2 L195.3,337.1 L195.1,337.0 L194.9,336.9 L194.8,336.8 L194.7,336.7 L194.6,336.5 L194.5,336.3 L194.4,336.1 L194.4,335.8 L194.3,335.4 L194.3,334.4 L194.3,333.4 L194.4,333.0 L194.4,332.7 L194.5,332.5 L194.6,332.3 L194.7,332.1 L194.8,332.0 L194.9,331.9 L195.1,331.8 L195.3,331.7 L195.5,331.6 L195.7,331.5 L196.0,331.5 L196.3,331.4 L196.7,331.4 L197.2,331.3 L197.8,331.3 L199.6,331.3 L201.4,331.3 L202.0,331.3 L202.5,331.4 L202.9,331.4 L203.2,331.5 L203.5,331.5 L203.7,331.6 L203.9,331.7 L204.1,331.8 L204.3,331.9 L204.4,332.0 L204.5,332.1 L204.6,332.3 L204.7,332.5 L204.8,332.7 L204.8,333.0 L204.9,333.4Z" fill="none" stroke="#777" stroke-width="0.8" stroke-dasharray="none"/>
<ellipse cx="198.2" cy="288.0" rx="7.199999999999999" ry="12.6" fill="none" stroke="#666" stroke-width="0.8" stroke-dasharray="2 1.5"/>
<text stroke="#000" stroke-width="0.7" x="-0.2" y="228.4" font-size="27" text-anchor="start" >C</text>
<text stroke="#000" stroke-width="0.7" x="85.4" y="238.5" font-size="17.5" text-anchor="middle" >WT</text>
<text stroke="#000" stroke-width="0.7" x="201.9" y="238.7" font-size="17.5" text-anchor="middle" >KO</text>
<rect x="29.8" y="247.5" width="106.9" height="106.0" fill="none" stroke-width="2.4"/>
<rect x="145.8" y="247.6" width="107.0" height="106.1" fill="none" stroke-width="2.4"/>
<rect x="62.7" y="263.5" width="33.8" height="54.3" fill="none" stroke-width="2"/>
<rect x="183.0" y="264.0" width="33.3" height="54.0" fill="none" stroke-width="2"/>
<line x1="25.20" y1="257.20" x2="29.70" y2="257.20" stroke-width="1.2"/>
<line x1="25.20" y1="281.20" x2="29.70" y2="281.20" stroke-width="1.2"/>
<line x1="25.20" y1="305.20" x2="29.70" y2="305.20" stroke-width="1.2"/>
<line x1="25.20" y1="307.50" x2="29.70" y2="307.50" stroke-width="1.2"/>
<line x1="27.20" y1="273.98" x2="29.70" y2="273.98" stroke-width="1.0"/>
<line x1="27.20" y1="269.75" x2="29.70" y2="269.75" stroke-width="1.0"/>
<line x1="27.20" y1="266.75" x2="29.70" y2="266.75" stroke-width="1.0"/>
<line x1="27.20" y1="264.42" x2="29.70" y2="264.42" stroke-width="1.0"/>
<line x1="27.20" y1="262.52" x2="29.70" y2="262.52" stroke-width="1.0"/>
<line x1="27.20" y1="260.92" x2="29.70" y2="260.92" stroke-width="1.0"/>
<line x1="27.20" y1="259.53" x2="29.70" y2="259.53" stroke-width="1.0"/>
<line x1="27.20" y1="258.30" x2="29.70" y2="258.30" stroke-width="1.0"/>
<line x1="27.20" y1="297.98" x2="29.70" y2="297.98" stroke-width="1.0"/>
<line x1="27.20" y1="293.75" x2="29.70" y2="293.75" stroke-width="1.0"/>
<line x1="27.20" y1="290.75" x2="29.70" y2="290.75" stroke-width="1.0"/>
<line x1="27.20" y1="288.42" x2="29.70" y2="288.42" stroke-width="1.0"/>
<line x1="27.20" y1="286.52" x2="29.70" y2="286.52" stroke-width="1.0"/>
<line x1="27.20" y1="284.92" x2="29.70" y2="284.92" stroke-width="1.0"/>
<line x1="27.20" y1="283.53" x2="29.70" y2="283.53" stroke-width="1.0"/>
<line x1="27.20" y1="282.30" x2="29.70" y2="282.30" stroke-width="1.0"/>
<line x1="27.20" y1="311.80" x2="29.70" y2="311.80" stroke-width="1.0"/>
<line x1="27.20" y1="315.80" x2="29.70" y2="315.80" stroke-width="1.0"/>
<line x1="27.20" y1="319.00" x2="29.70" y2="319.00" stroke-width="1.0"/>
<line x1="27.20" y1="322.20" x2="29.70" y2="322.20" stroke-width="1.0"/>
<line x1="27.20" y1="326.00" x2="29.70" y2="326.00" stroke-width="1.0"/>
<line x1="26.20" y1="331.50" x2="29.70" y2="331.50" stroke-width="1.0"/>
<line x1="26.20" y1="333.00" x2="29.70" y2="333.00" stroke-width="1.0"/>
<line x1="26.20" y1="334.50" x2="29.70" y2="334.50" stroke-width="1.0"/>
<line x1="26.20" y1="336.00" x2="29.70" y2="336.00" stroke-width="1.0"/>
<line x1="26.20" y1="337.50" x2="29.70" y2="337.50" stroke-width="1.0"/>
<line x1="26.20" y1="339.00" x2="29.70" y2="339.00" stroke-width="1.0"/>
<line x1="26.20" y1="340.50" x2="29.70" y2="340.50" stroke-width="1.0"/>
<line x1="26.20" y1="342.00" x2="29.70" y2="342.00" stroke-width="1.0"/>
<line x1="33.70" y1="353.60" x2="33.70" y2="356.40" stroke-width="1.0"/>
<line x1="43.20" y1="353.60" x2="43.20" y2="356.40" stroke-width="1.0"/>
<line x1="48.30" y1="353.60" x2="48.30" y2="356.40" stroke-width="1.0"/>
<line x1="52.70" y1="353.60" x2="52.70" y2="356.40" stroke-width="1.0"/>
<line x1="54.20" y1="353.60" x2="54.20" y2="356.40" stroke-width="1.0"/>
<line x1="55.70" y1="353.60" x2="55.70" y2="356.40" stroke-width="1.0"/>
<line x1="57.20" y1="353.60" x2="57.20" y2="356.40" stroke-width="1.0"/>
<line x1="62.70" y1="353.60" x2="62.70" y2="356.40" stroke-width="1.0"/>
<line x1="70.70" y1="353.60" x2="70.70" y2="356.40" stroke-width="1.0"/>
<line x1="75.20" y1="353.60" x2="75.20" y2="356.40" stroke-width="1.0"/>
<line x1="81.70" y1="353.60" x2="81.70" y2="356.40" stroke-width="1.0"/>
<line x1="85.70" y1="353.60" x2="85.70" y2="356.40" stroke-width="1.0"/>
<line x1="89.70" y1="353.60" x2="89.70" y2="356.40" stroke-width="1.0"/>
<line x1="95.70" y1="353.60" x2="95.70" y2="356.40" stroke-width="1.0"/>
<line x1="105.70" y1="353.60" x2="105.70" y2="356.40" stroke-width="1.0"/>
<line x1="113.70" y1="353.60" x2="113.70" y2="356.40" stroke-width="1.0"/>
<line x1="118.70" y1="353.60" x2="118.70" y2="356.40" stroke-width="1.0"/>
<line x1="122.70" y1="353.60" x2="122.70" y2="356.40" stroke-width="1.0"/>
<line x1="125.70" y1="353.60" x2="125.70" y2="356.40" stroke-width="1.0"/>
<line x1="128.70" y1="353.60" x2="128.70" y2="356.40" stroke-width="1.0"/>
<line x1="131.70" y1="353.60" x2="131.70" y2="356.40" stroke-width="1.0"/>
<line x1="141.20" y1="257.30" x2="145.70" y2="257.30" stroke-width="1.2"/>
<line x1="141.20" y1="281.30" x2="145.70" y2="281.30" stroke-width="1.2"/>
<line x1="141.20" y1="305.30" x2="145.70" y2="305.30" stroke-width="1.2"/>
<line x1="141.20" y1="307.60" x2="145.70" y2="307.60" stroke-width="1.2"/>
<line x1="143.20" y1="274.08" x2="145.70" y2="274.08" stroke-width="1.0"/>
<line x1="143.20" y1="269.85" x2="145.70" y2="269.85" stroke-width="1.0"/>
<line x1="143.20" y1="266.85" x2="145.70" y2="266.85" stroke-width="1.0"/>
<line x1="143.20" y1="264.52" x2="145.70" y2="264.52" stroke-width="1.0"/>
<line x1="143.20" y1="262.62" x2="145.70" y2="262.62" stroke-width="1.0"/>
<line x1="143.20" y1="261.02" x2="145.70" y2="261.02" stroke-width="1.0"/>
<line x1="143.20" y1="259.63" x2="145.70" y2="259.63" stroke-width="1.0"/>
<line x1="143.20" y1="258.40" x2="145.70" y2="258.40" stroke-width="1.0"/>
<line x1="143.20" y1="298.08" x2="145.70" y2="298.08" stroke-width="1.0"/>
<line x1="143.20" y1="293.85" x2="145.70" y2="293.85" stroke-width="1.0"/>
<line x1="143.20" y1="290.85" x2="145.70" y2="290.85" stroke-width="1.0"/>
<line x1="143.20" y1="288.52" x2="145.70" y2="288.52" stroke-width="1.0"/>
<line x1="143.20" y1="286.62" x2="145.70" y2="286.62" stroke-width="1.0"/>
<line x1="143.20" y1="285.02" x2="145.70" y2="285.02" stroke-width="1.0"/>
<line x1="143.20" y1="283.63" x2="145.70" y2="283.63" stroke-width="1.0"/>
<line x1="143.20" y1="282.40" x2="145.70" y2="282.40" stroke-width="1.0"/>
<line x1="143.20" y1="311.90" x2="145.70" y2="311.90" stroke-width="1.0"/>
<line x1="143.20" y1="315.90" x2="145.70" y2="315.90" stroke-width="1.0"/>
<line x1="143.20" y1="319.10" x2="145.70" y2="319.10" stroke-width="1.0"/>
<line x1="143.20" y1="322.30" x2="145.70" y2="322.30" stroke-width="1.0"/>
<line x1="143.20" y1="326.10" x2="145.70" y2="326.10" stroke-width="1.0"/>
<line x1="142.20" y1="331.60" x2="145.70" y2="331.60" stroke-width="1.0"/>
<line x1="142.20" y1="333.10" x2="145.70" y2="333.10" stroke-width="1.0"/>
<line x1="142.20" y1="334.60" x2="145.70" y2="334.60" stroke-width="1.0"/>
<line x1="142.20" y1="336.10" x2="145.70" y2="336.10" stroke-width="1.0"/>
<line x1="142.20" y1="337.60" x2="145.70" y2="337.60" stroke-width="1.0"/>
<line x1="142.20" y1="339.10" x2="145.70" y2="339.10" stroke-width="1.0"/>
<line x1="142.20" y1="340.60" x2="145.70" y2="340.60" stroke-width="1.0"/>
<line x1="142.20" y1="342.10" x2="145.70" y2="342.10" stroke-width="1.0"/>
<line x1="149.70" y1="353.80" x2="149.70" y2="356.60" stroke-width="1.0"/>
<line x1="159.20" y1="353.80" x2="159.20" y2="356.60" stroke-width="1.0"/>
<line x1="164.30" y1="353.80" x2="164.30" y2="356.60" stroke-width="1.0"/>
<line x1="168.70" y1="353.80" x2="168.70" y2="356.60" stroke-width="1.0"/>
<line x1="170.20" y1="353.80" x2="170.20" y2="356.60" stroke-width="1.0"/>
<line x1="171.70" y1="353.80" x2="171.70" y2="356.60" stroke-width="1.0"/>
<line x1="173.20" y1="353.80" x2="173.20" y2="356.60" stroke-width="1.0"/>
<line x1="178.70" y1="353.80" x2="178.70" y2="356.60" stroke-width="1.0"/>
<line x1="186.70" y1="353.80" x2="186.70" y2="356.60" stroke-width="1.0"/>
<line x1="191.20" y1="353.80" x2="191.20" y2="356.60" stroke-width="1.0"/>
<line x1="197.70" y1="353.80" x2="197.70" y2="356.60" stroke-width="1.0"/>
<line x1="201.70" y1="353.80" x2="201.70" y2="356.60" stroke-width="1.0"/>
<line x1="205.70" y1="353.80" x2="205.70" y2="356.60" stroke-width="1.0"/>
<line x1="211.70" y1="353.80" x2="211.70" y2="356.60" stroke-width="1.0"/>
<line x1="221.70" y1="353.80" x2="221.70" y2="356.60" stroke-width="1.0"/>
<line x1="229.70" y1="353.80" x2="229.70" y2="356.60" stroke-width="1.0"/>
<line x1="234.70" y1="353.80" x2="234.70" y2="356.60" stroke-width="1.0"/>
<line x1="238.70" y1="353.80" x2="238.70" y2="356.60" stroke-width="1.0"/>
<line x1="241.70" y1="353.80" x2="241.70" y2="356.60" stroke-width="1.0"/>
<line x1="244.70" y1="353.80" x2="244.70" y2="356.60" stroke-width="1.0"/>
<line x1="247.70" y1="353.80" x2="247.70" y2="356.60" stroke-width="1.0"/>
<text stroke="#000" stroke-width="0.7" x="37.6" y="295.2" font-size="16.5" text-anchor="start" >25</text>
<text stroke="#000" stroke-width="0.7" x="160.6" y="296.8" font-size="16.5" text-anchor="start" >10</text>
<text stroke="#000" stroke-width="0.7" transform="translate(17.4,299.1) rotate(-90)" font-size="16.5" letter-spacing="0.7" text-anchor="middle">IFN-<tspan dy="1.8">γ</tspan></text>
<text stroke="#000" stroke-width="0.7" x="65" y="375.8" font-size="18" text-anchor="start" >CD8</text>
<line x1="103.50" y1="369.20" x2="228.00" y2="369.20" stroke-width="2.4"/>
<path d="M225,360.5 L241,369.4 L225,378.7 Z" fill="#000" stroke="none"/>
</svg>
</body></html>
